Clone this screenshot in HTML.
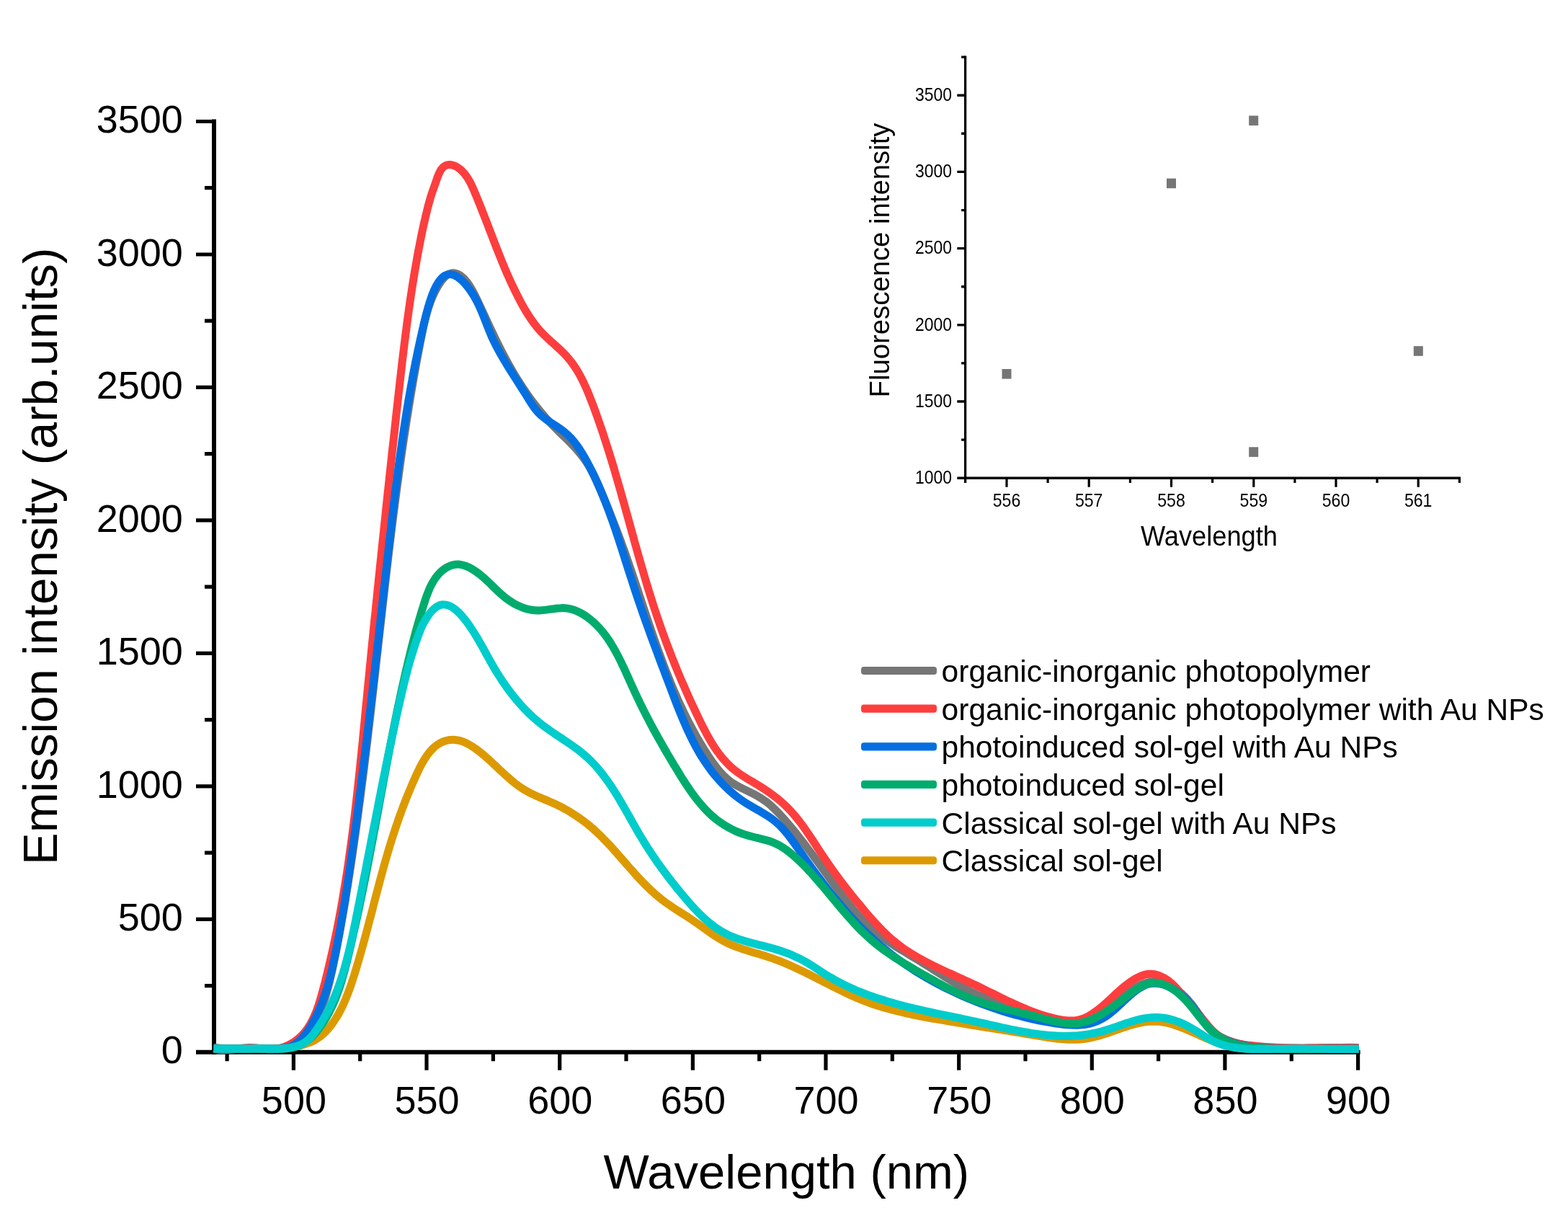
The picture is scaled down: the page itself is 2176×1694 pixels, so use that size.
<!DOCTYPE html>
<html lang="en"><head><meta charset="utf-8"><title>Emission intensity spectra</title>
<style>html,body{margin:0;padding:0;background:#fff}body{width:2176px;height:1694px;overflow:hidden}svg{display:block}text{font-family:"Liberation Sans",Arial,Helvetica,sans-serif;fill:#000}</style></head><body>
<svg xmlns="http://www.w3.org/2000/svg" width="2176" height="1694" viewBox="0 0 2176 1694">
<rect width="2176" height="1694" fill="#fff"/>
<g stroke="#000" stroke-width="6.0" fill="none" stroke-linecap="butt">
<path d="M297.0 165.5V1462.8"/>
<path d="M272.0 1459.8H1887.6"/>
<path stroke-width="5.2" d="M272.0 1275.3H297.0M272.0 1090.9H297.0M272.0 906.4H297.0M272.0 721.9H297.0M272.0 537.4H297.0M272.0 353.0H297.0M272.0 168.5H297.0M284.0 1367.6H297.0M284.0 1183.1H297.0M284.0 998.6H297.0M284.0 814.2H297.0M284.0 629.7H297.0M284.0 445.2H297.0M284.0 260.7H297.0"/>
<path stroke-width="5.2" d="M407.4 1459.8V1484.8M592.0 1459.8V1484.8M776.7 1459.8V1484.8M961.4 1459.8V1484.8M1146.0 1459.8V1484.8M1330.7 1459.8V1484.8M1515.3 1459.8V1484.8M1699.9 1459.8V1484.8M1884.6 1459.8V1484.8M315.1 1459.8V1472.3M499.7 1459.8V1472.3M684.4 1459.8V1472.3M869.0 1459.8V1472.3M1053.7 1459.8V1472.3M1238.3 1459.8V1472.3M1423.0 1459.8V1472.3M1607.6 1459.8V1472.3M1792.3 1459.8V1472.3"/>
</g>
<g fill="none" stroke-linejoin="round" stroke-linecap="butt" stroke-width="11.0">
<path stroke="#DC9A00" d="M296.7 1455.1C299.5 1454.9 302.3 1454.8 305.1 1454.7C307.9 1454.7 310.6 1454.6 313.4 1454.6C316.2 1454.6 319.0 1454.6 321.8 1454.6C324.6 1454.6 327.3 1454.7 330.1 1454.7C332.9 1454.8 335.7 1454.8 338.5 1454.9C341.2 1455.0 344.0 1455.0 346.8 1455.1C349.6 1455.2 352.4 1455.2 355.2 1455.3C357.9 1455.3 360.7 1455.3 363.5 1455.3C366.3 1455.3 369.1 1455.3 371.8 1455.3C374.6 1455.2 377.4 1455.2 380.2 1455.0C383.0 1454.9 385.7 1454.8 388.5 1454.6C391.3 1454.4 394.1 1454.1 396.8 1453.8C399.6 1453.5 402.4 1453.1 405.1 1452.7C407.9 1452.3 410.6 1451.8 413.3 1451.2C416.1 1450.7 418.8 1450.0 421.4 1449.2C424.1 1448.4 426.8 1447.6 429.3 1446.5C431.9 1445.5 434.4 1444.3 436.9 1443.0C439.3 1441.6 441.6 1440.1 443.9 1438.4C446.1 1436.7 448.2 1434.9 450.2 1433.0C452.2 1431.1 454.1 1429.0 455.9 1426.9C457.7 1424.8 459.4 1422.6 461.0 1420.3C462.7 1418.1 464.2 1415.8 465.7 1413.4C467.2 1411.1 468.6 1408.7 470.0 1406.2C471.3 1403.8 472.6 1401.4 473.9 1398.9C475.1 1396.4 476.3 1393.9 477.4 1391.3C478.6 1388.8 479.6 1386.2 480.7 1383.6C481.7 1381.1 482.8 1378.5 483.7 1375.9C484.7 1373.2 485.6 1370.6 486.6 1368.0C487.5 1365.4 488.4 1362.7 489.2 1360.1C490.1 1357.4 490.9 1354.8 491.8 1352.1C492.6 1349.5 493.4 1346.8 494.2 1344.2C495.0 1341.5 495.8 1338.8 496.6 1336.2C497.4 1333.5 498.2 1330.8 498.9 1328.1C499.7 1325.5 500.5 1322.8 501.2 1320.1C502.0 1317.4 502.7 1314.8 503.5 1312.1C504.2 1309.4 505.0 1306.7 505.7 1304.0C506.4 1301.3 507.1 1298.7 507.9 1296.0C508.6 1293.3 509.3 1290.6 510.0 1287.9C510.7 1285.2 511.4 1282.5 512.1 1279.8C512.8 1277.1 513.6 1274.4 514.3 1271.8C515.0 1269.1 515.7 1266.4 516.4 1263.7C517.1 1261.0 517.8 1258.3 518.4 1255.6C519.1 1252.9 519.8 1250.2 520.5 1247.5C521.2 1244.8 521.9 1242.1 522.7 1239.4C523.4 1236.8 524.1 1234.1 524.8 1231.4C525.5 1228.7 526.2 1226.0 526.9 1223.3C527.6 1220.6 528.4 1217.9 529.1 1215.2C529.8 1212.6 530.5 1209.9 531.3 1207.2C532.0 1204.5 532.8 1201.8 533.5 1199.2C534.3 1196.5 535.0 1193.8 535.8 1191.1C536.6 1188.5 537.4 1185.8 538.1 1183.1C538.9 1180.4 539.7 1177.8 540.5 1175.1C541.3 1172.5 542.2 1169.8 543.0 1167.1C543.8 1164.5 544.7 1161.8 545.5 1159.2C546.4 1156.5 547.2 1153.9 548.1 1151.2C549.0 1148.6 549.9 1146.0 550.8 1143.3C551.7 1140.7 552.6 1138.1 553.5 1135.4C554.4 1132.8 555.4 1130.2 556.3 1127.6C557.3 1125.0 558.2 1122.4 559.2 1119.8C560.2 1117.2 561.2 1114.6 562.2 1112.0C563.2 1109.4 564.2 1106.8 565.3 1104.2C566.3 1101.6 567.4 1099.1 568.5 1096.5C569.5 1093.9 570.6 1091.4 571.7 1088.8C572.8 1086.3 573.9 1083.7 575.1 1081.2C576.2 1078.6 577.3 1076.1 578.5 1073.6C579.7 1071.0 580.9 1068.5 582.1 1066.0C583.4 1063.5 584.7 1061.1 586.0 1058.7C587.4 1056.2 588.8 1053.8 590.3 1051.5C591.9 1049.1 593.5 1046.9 595.2 1044.7C596.9 1042.5 598.8 1040.4 600.7 1038.5C602.7 1036.5 604.9 1034.7 607.1 1033.1C609.4 1031.6 611.9 1030.2 614.4 1029.2C617.0 1028.1 619.7 1027.3 622.4 1026.8C625.2 1026.4 628.0 1026.2 630.8 1026.4C633.5 1026.6 636.2 1027.0 639.0 1027.8C641.6 1028.6 644.2 1029.6 646.8 1030.8C649.2 1032.0 651.7 1033.3 654.1 1034.8C656.4 1036.2 658.7 1037.8 661.0 1039.5C663.2 1041.1 665.4 1042.8 667.6 1044.6C669.8 1046.3 671.9 1048.1 674.0 1050.0C676.1 1051.8 678.2 1053.6 680.2 1055.5C682.3 1057.4 684.3 1059.3 686.3 1061.2C688.4 1063.1 690.4 1065.0 692.4 1066.9C694.4 1068.8 696.5 1070.7 698.5 1072.6C700.6 1074.5 702.6 1076.4 704.7 1078.2C706.8 1080.1 708.9 1081.9 711.0 1083.7C713.2 1085.4 715.3 1087.2 717.6 1088.8C719.8 1090.5 722.1 1092.1 724.4 1093.6C726.7 1095.1 729.1 1096.6 731.5 1097.9C734.0 1099.3 736.4 1100.5 739.0 1101.8C741.5 1102.9 744.0 1104.1 746.6 1105.2C749.1 1106.3 751.7 1107.4 754.2 1108.5C756.8 1109.5 759.4 1110.6 761.9 1111.7C764.5 1112.8 767.0 1113.9 769.6 1115.1C772.1 1116.3 774.6 1117.5 777.1 1118.7C779.6 1120.0 782.0 1121.3 784.4 1122.7C786.9 1124.0 789.3 1125.4 791.7 1126.8C794.0 1128.3 796.4 1129.8 798.7 1131.3C801.1 1132.8 803.3 1134.4 805.6 1136.0C807.9 1137.6 810.1 1139.3 812.3 1141.0C814.5 1142.7 816.7 1144.5 818.8 1146.2C820.9 1148.0 823.0 1149.9 825.1 1151.7C827.1 1153.6 829.2 1155.5 831.2 1157.4C833.2 1159.4 835.2 1161.3 837.1 1163.3C839.1 1165.3 841.0 1167.3 842.9 1169.3C844.8 1171.3 846.7 1173.4 848.6 1175.4C850.4 1177.5 852.3 1179.6 854.2 1181.6C856.0 1183.7 857.8 1185.8 859.7 1187.9C861.5 1190.0 863.3 1192.1 865.2 1194.2C867.0 1196.3 868.8 1198.4 870.7 1200.5C872.5 1202.6 874.3 1204.7 876.2 1206.7C878.0 1208.8 879.9 1210.9 881.8 1213.0C883.6 1215.0 885.5 1217.1 887.4 1219.1C889.3 1221.1 891.2 1223.1 893.2 1225.1C895.1 1227.1 897.1 1229.1 899.1 1231.0C901.1 1233.0 903.1 1234.9 905.1 1236.8C907.2 1238.6 909.3 1240.5 911.4 1242.3C913.5 1244.1 915.7 1245.9 917.8 1247.6C920.0 1249.3 922.3 1251.0 924.5 1252.6C926.8 1254.2 929.1 1255.8 931.4 1257.4C933.7 1258.9 936.0 1260.5 938.3 1262.0C940.7 1263.5 943.0 1265.0 945.4 1266.5C947.7 1267.9 950.1 1269.4 952.4 1270.9C954.8 1272.4 957.1 1273.9 959.4 1275.5C961.7 1277.0 964.0 1278.6 966.3 1280.2C968.6 1281.8 970.9 1283.4 973.1 1285.0C975.4 1286.6 977.7 1288.2 979.9 1289.9C982.2 1291.5 984.5 1293.1 986.7 1294.7C989.0 1296.3 991.3 1297.8 993.7 1299.3C996.0 1300.8 998.4 1302.3 1000.8 1303.7C1003.2 1305.1 1005.6 1306.4 1008.1 1307.6C1010.6 1308.9 1013.2 1310.0 1015.7 1311.1C1018.3 1312.2 1020.9 1313.2 1023.5 1314.2C1026.1 1315.2 1028.7 1316.1 1031.4 1317.0C1034.0 1317.8 1036.6 1318.7 1039.3 1319.5C1042.0 1320.3 1044.6 1321.1 1047.3 1321.9C1050.0 1322.7 1052.6 1323.5 1055.3 1324.3C1058.0 1325.1 1060.6 1325.9 1063.3 1326.8C1065.9 1327.6 1068.6 1328.5 1071.2 1329.4C1073.8 1330.3 1076.4 1331.3 1079.0 1332.2C1081.6 1333.2 1084.2 1334.2 1086.8 1335.3C1089.4 1336.4 1091.9 1337.4 1094.5 1338.5C1097.0 1339.7 1099.6 1340.8 1102.1 1342.0C1104.6 1343.1 1107.2 1344.3 1109.7 1345.5C1112.2 1346.7 1114.7 1347.9 1117.2 1349.1C1119.7 1350.4 1122.2 1351.6 1124.7 1352.9C1127.1 1354.1 1129.6 1355.4 1132.1 1356.6C1134.6 1357.9 1137.1 1359.2 1139.5 1360.4C1142.0 1361.7 1144.5 1363.0 1147.0 1364.2C1149.4 1365.5 1151.9 1366.8 1154.4 1368.0C1156.9 1369.3 1159.4 1370.5 1161.9 1371.8C1164.4 1373.0 1166.9 1374.2 1169.4 1375.4C1171.9 1376.6 1174.4 1377.8 1176.9 1379.0C1179.4 1380.2 1182.0 1381.3 1184.5 1382.4C1187.1 1383.6 1189.6 1384.7 1192.2 1385.7C1194.7 1386.8 1197.3 1387.8 1199.9 1388.8C1202.5 1389.8 1205.1 1390.8 1207.7 1391.7C1210.4 1392.7 1213.0 1393.6 1215.6 1394.5C1218.3 1395.3 1220.9 1396.2 1223.6 1397.0C1226.3 1397.8 1228.9 1398.6 1231.6 1399.3C1234.3 1400.1 1237.0 1400.8 1239.7 1401.5C1242.4 1402.2 1245.1 1402.9 1247.8 1403.5C1250.5 1404.2 1253.2 1404.8 1255.9 1405.4C1258.6 1406.1 1261.3 1406.7 1264.0 1407.2C1266.8 1407.8 1269.5 1408.4 1272.2 1408.9C1274.9 1409.5 1277.7 1410.0 1280.4 1410.5C1283.1 1411.0 1285.9 1411.6 1288.6 1412.1C1291.4 1412.6 1294.1 1413.0 1296.8 1413.5C1299.6 1414.0 1302.3 1414.5 1305.1 1414.9C1307.8 1415.4 1310.5 1415.9 1313.3 1416.3C1316.0 1416.8 1318.8 1417.3 1321.5 1417.7C1324.3 1418.2 1327.0 1418.6 1329.8 1419.1C1332.5 1419.5 1335.2 1420.0 1338.0 1420.4C1340.7 1420.9 1343.5 1421.3 1346.2 1421.8C1349.0 1422.2 1351.7 1422.6 1354.5 1423.1C1357.2 1423.5 1360.0 1424.0 1362.7 1424.4C1365.5 1424.9 1368.2 1425.3 1371.0 1425.7C1373.7 1426.2 1376.4 1426.6 1379.2 1427.1C1381.9 1427.5 1384.7 1428.0 1387.4 1428.4C1390.2 1428.8 1392.9 1429.3 1395.7 1429.7C1398.4 1430.2 1401.2 1430.6 1403.9 1431.1C1406.7 1431.5 1409.4 1432.0 1412.2 1432.4C1414.9 1432.9 1417.6 1433.3 1420.4 1433.8C1423.1 1434.2 1425.9 1434.7 1428.6 1435.1C1431.4 1435.6 1434.1 1436.1 1436.9 1436.5C1439.6 1437.0 1442.3 1437.5 1445.1 1437.9C1447.8 1438.4 1450.6 1438.8 1453.3 1439.2C1456.1 1439.6 1458.8 1440.0 1461.6 1440.4C1464.4 1440.7 1467.1 1441.1 1469.9 1441.3C1472.7 1441.6 1475.4 1441.9 1478.2 1442.0C1481.0 1442.2 1483.8 1442.3 1486.5 1442.3C1489.3 1442.4 1492.1 1442.3 1494.9 1442.2C1497.7 1442.1 1500.4 1441.9 1503.2 1441.5C1506.0 1441.2 1508.7 1440.8 1511.5 1440.3C1514.2 1439.8 1516.9 1439.2 1519.6 1438.5C1522.3 1437.8 1525.0 1437.1 1527.7 1436.3C1530.3 1435.5 1533.0 1434.6 1535.6 1433.8C1538.2 1432.9 1540.9 1432.0 1543.5 1431.1C1546.1 1430.1 1548.8 1429.2 1551.4 1428.3C1554.0 1427.4 1556.6 1426.4 1559.3 1425.6C1561.9 1424.7 1564.6 1423.8 1567.2 1423.0C1569.9 1422.2 1572.6 1421.4 1575.2 1420.7C1577.9 1420.0 1580.7 1419.3 1583.4 1418.8C1586.1 1418.2 1588.9 1417.8 1591.6 1417.5C1594.4 1417.2 1597.2 1417.0 1599.9 1416.9C1602.7 1416.9 1605.5 1417.0 1608.3 1417.3C1611.0 1417.6 1613.8 1418.0 1616.5 1418.5C1619.2 1419.1 1621.9 1419.7 1624.6 1420.5C1627.3 1421.2 1629.9 1422.1 1632.6 1423.0C1635.2 1423.9 1637.8 1424.8 1640.4 1425.9C1643.0 1426.9 1645.6 1427.9 1648.1 1429.0C1650.7 1430.1 1653.2 1431.3 1655.8 1432.4C1658.3 1433.5 1660.9 1434.7 1663.4 1435.8C1665.9 1437.0 1668.5 1438.1 1671.0 1439.2C1673.6 1440.3 1676.1 1441.4 1678.7 1442.5C1681.3 1443.6 1683.9 1444.6 1686.5 1445.5C1689.1 1446.5 1691.7 1447.4 1694.4 1448.3C1697.0 1449.1 1699.7 1449.9 1702.4 1450.5C1705.1 1451.2 1707.8 1451.9 1710.5 1452.4C1713.3 1452.9 1716.0 1453.4 1718.8 1453.8C1721.5 1454.2 1724.3 1454.5 1727.1 1454.7C1729.8 1455.0 1732.6 1455.1 1735.4 1455.3C1738.1 1455.4 1740.9 1455.5 1743.7 1455.5C1746.5 1455.5 1749.3 1455.5 1752.1 1455.5C1754.8 1455.5 1757.6 1455.4 1760.4 1455.3C1763.2 1455.2 1766.0 1455.2 1768.8 1455.1C1771.5 1455.0 1774.3 1454.9 1777.1 1454.8C1779.9 1454.7 1782.7 1454.7 1785.4 1454.6C1788.2 1454.5 1791.0 1454.5 1793.8 1454.5C1796.6 1454.4 1799.4 1454.4 1802.1 1454.4C1804.9 1454.4 1807.7 1454.4 1810.5 1454.4C1813.3 1454.4 1816.1 1454.4 1818.8 1454.4C1821.6 1454.4 1824.4 1454.4 1827.2 1454.4C1830.0 1454.4 1832.7 1454.4 1835.5 1454.5C1838.3 1454.5 1841.1 1454.5 1843.9 1454.5C1846.7 1454.5 1849.4 1454.6 1852.2 1454.6C1855.0 1454.6 1857.8 1454.6 1860.6 1454.6C1863.3 1454.6 1866.1 1454.6 1868.9 1454.6C1871.7 1454.6 1874.5 1454.5 1877.3 1454.5C1880.0 1454.5 1882.8 1454.4 1885.6 1454.4"/>
<path stroke="#767676" d="M296.7 1453.6C301.0 1454.0 305.3 1454.4 309.5 1454.6C313.8 1454.8 318.1 1454.9 322.3 1454.9C326.6 1455.0 330.9 1454.9 335.2 1454.9C339.5 1454.8 343.7 1454.8 348.0 1454.8C352.3 1454.7 356.6 1454.7 360.9 1454.8C365.1 1454.9 369.4 1455.1 373.7 1455.2C378.0 1455.4 382.4 1455.4 386.5 1455.1C390.9 1454.7 395.1 1453.9 399.1 1452.5C403.1 1451.1 406.9 1449.0 410.5 1446.6C414.0 1444.3 417.3 1441.5 420.4 1438.5C423.5 1435.5 426.3 1432.3 429.0 1428.9C431.6 1425.6 434.0 1422.0 436.2 1418.4C438.4 1414.7 440.5 1410.9 442.3 1407.1C444.1 1403.2 445.8 1399.3 447.4 1395.2C448.9 1391.3 450.3 1387.2 451.6 1383.1C452.8 1379.0 454.0 1374.9 455.1 1370.8C456.2 1366.6 457.3 1362.5 458.2 1358.3C459.2 1354.1 460.1 1350.0 461.1 1345.8C462.0 1341.6 462.9 1337.4 463.7 1333.2C464.6 1329.0 465.4 1324.8 466.3 1320.6C467.1 1316.4 467.9 1312.2 468.7 1308.0C469.5 1303.8 470.3 1299.6 471.1 1295.4C471.9 1291.2 472.6 1287.0 473.4 1282.8C474.1 1278.5 474.9 1274.3 475.6 1270.1C476.3 1265.9 477.0 1261.7 477.8 1257.4C478.5 1253.2 479.2 1249.0 479.9 1244.8C480.5 1240.5 481.2 1236.3 481.9 1232.1C482.6 1227.9 483.3 1223.6 483.9 1219.4C484.6 1215.2 485.2 1210.9 485.9 1206.7C486.5 1202.5 487.2 1198.2 487.8 1194.0C488.4 1189.8 489.1 1185.5 489.7 1181.3C490.3 1177.1 490.9 1172.8 491.5 1168.6C492.1 1164.4 492.7 1160.1 493.3 1155.9C493.9 1151.6 494.5 1147.4 495.1 1143.2C495.7 1138.9 496.3 1134.7 496.8 1130.4C497.4 1126.2 498.0 1121.9 498.5 1117.7C499.1 1113.5 499.7 1109.2 500.2 1105.0C500.8 1100.7 501.3 1096.5 501.8 1092.2C502.4 1088.0 502.9 1083.7 503.5 1079.5C504.0 1075.2 504.5 1071.0 505.1 1066.7C505.6 1062.5 506.1 1058.2 506.6 1054.0C507.1 1049.7 507.7 1045.5 508.2 1041.2C508.7 1037.0 509.2 1032.7 509.7 1028.5C510.2 1024.2 510.7 1020.0 511.2 1015.7C511.7 1011.5 512.2 1007.2 512.7 1003.0C513.2 998.7 513.7 994.5 514.2 990.2C514.7 986.0 515.2 981.7 515.6 977.4C516.1 973.2 516.6 968.9 517.1 964.7C517.6 960.4 518.1 956.2 518.5 951.9C519.0 947.7 519.5 943.4 520.0 939.2C520.5 934.9 520.9 930.7 521.4 926.4C521.9 922.1 522.4 917.9 522.8 913.6C523.3 909.4 523.8 905.1 524.3 900.9C524.7 896.6 525.2 892.4 525.7 888.1C526.2 883.8 526.6 879.6 527.1 875.3C527.6 871.1 528.1 866.8 528.6 862.6C529.0 858.3 529.5 854.1 530.0 849.8C530.5 845.6 530.9 841.3 531.4 837.0C531.9 832.8 532.4 828.5 532.9 824.3C533.4 820.0 533.9 815.8 534.3 811.5C534.8 807.3 535.3 803.0 535.8 798.8C536.3 794.5 536.8 790.3 537.3 786.0C537.8 781.8 538.3 777.5 538.8 773.2C539.3 769.0 539.8 764.7 540.3 760.5C540.8 756.2 541.3 752.0 541.9 747.7C542.4 743.5 542.9 739.2 543.4 735.0C543.9 730.7 544.5 726.5 545.0 722.2C545.5 718.0 546.1 713.8 546.6 709.5C547.2 705.3 547.7 701.0 548.3 696.8C548.8 692.5 549.4 688.3 549.9 684.0C550.5 679.8 551.0 675.5 551.6 671.3C552.2 667.1 552.8 662.8 553.4 658.6C553.9 654.3 554.5 650.1 555.1 645.8C555.7 641.6 556.3 637.4 556.9 633.1C557.5 628.9 558.1 624.7 558.8 620.4C559.4 616.2 560.0 611.9 560.6 607.7C561.3 603.5 561.9 599.2 562.6 595.0C563.2 590.8 563.9 586.5 564.5 582.3C565.2 578.1 565.9 573.9 566.6 569.6C567.2 565.4 567.9 561.2 568.6 557.0C569.3 552.7 570.0 548.5 570.7 544.3C571.4 540.1 572.2 535.8 572.9 531.6C573.6 527.4 574.4 523.2 575.1 519.0C575.9 514.8 576.6 510.5 577.4 506.3C578.2 502.1 579.0 497.9 579.7 493.7C580.5 489.5 581.3 485.3 582.1 481.1C582.9 476.9 583.8 472.7 584.6 468.5C585.4 464.3 586.3 460.1 587.1 455.9C588.0 451.7 588.9 447.5 590.0 443.4C591.0 439.2 592.1 435.1 593.3 431.0C594.5 426.9 595.9 422.8 597.4 418.8C598.9 414.8 600.6 410.9 602.4 407.0C604.3 403.2 606.3 399.4 608.5 395.7C610.8 391.9 613.3 388.3 616.1 385.4C619.4 381.9 623.0 379.5 627.0 378.9C630.8 378.4 635.1 379.8 639.0 382.4C642.4 384.7 645.5 387.9 648.1 391.4C650.8 394.9 653.1 398.6 655.1 402.2C657.3 406.0 659.2 409.8 661.0 413.6C662.9 417.5 664.7 421.3 666.5 425.2C668.3 429.1 670.1 433.0 671.9 436.9C673.7 440.7 675.5 444.6 677.3 448.5C679.1 452.4 680.9 456.3 682.8 460.1C684.6 464.0 686.5 467.9 688.3 471.7C690.2 475.6 692.1 479.4 694.1 483.2C696.0 487.0 698.0 490.8 700.0 494.6C702.0 498.4 704.0 502.2 706.1 505.9C708.2 509.6 710.3 513.4 712.5 517.0C714.7 520.7 716.9 524.4 719.2 528.0C721.5 531.7 723.8 535.2 726.1 538.8C728.5 542.4 730.9 545.9 733.4 549.4C735.9 552.9 738.4 556.3 741.0 559.7C743.6 563.1 746.3 566.5 749.0 569.8C751.7 573.1 754.5 576.4 757.3 579.6C760.2 582.8 763.1 586.0 766.0 589.1C769.0 592.1 772.0 595.2 775.1 598.2C778.1 601.2 781.2 604.2 784.2 607.1C787.3 610.1 790.4 613.2 793.3 616.2C796.3 619.3 799.2 622.4 802.0 625.7C804.9 628.9 807.6 632.2 810.1 635.7C812.6 639.1 815.0 642.7 817.2 646.4C819.3 650.0 821.4 653.8 823.3 657.7C825.2 661.5 827.0 665.4 828.8 669.3C830.5 673.2 832.2 677.1 833.9 681.1C835.5 685.0 837.2 689.0 838.8 692.9C840.4 696.9 842.1 700.9 843.7 704.8C845.3 708.8 846.9 712.8 848.4 716.7C850.0 720.7 851.6 724.7 853.1 728.7C854.7 732.7 856.2 736.7 857.7 740.7C859.2 744.7 860.7 748.7 862.2 752.7C863.6 756.8 865.1 760.8 866.6 764.8C868.0 768.8 869.4 772.9 870.8 776.9C872.2 781.0 873.6 785.0 875.0 789.1C876.4 793.1 877.8 797.2 879.2 801.2C880.5 805.3 881.9 809.3 883.2 813.4C884.6 817.5 886.0 821.5 887.3 825.6C888.7 829.7 890.0 833.7 891.3 837.8C892.7 841.8 894.0 845.9 895.4 850.0C896.8 854.0 898.1 858.1 899.5 862.2C900.9 866.2 902.2 870.3 903.6 874.3C905.0 878.4 906.4 882.4 907.8 886.5C909.2 890.5 910.7 894.5 912.1 898.6C913.5 902.6 915.0 906.6 916.5 910.6C918.0 914.7 919.5 918.7 921.0 922.7C922.5 926.7 924.0 930.7 925.6 934.6C927.2 938.6 928.8 942.6 930.4 946.6C932.0 950.5 933.7 954.5 935.4 958.4C937.1 962.3 938.8 966.3 940.5 970.2C942.3 974.1 944.1 978.0 945.9 981.8C947.7 985.7 949.6 989.6 951.5 993.4C953.4 997.3 955.3 1001.1 957.3 1004.9C959.3 1008.7 961.3 1012.4 963.4 1016.2C965.4 1019.9 967.5 1023.7 969.7 1027.4C971.8 1031.1 974.1 1034.7 976.3 1038.4C978.6 1042.0 980.9 1045.6 983.2 1049.2C985.6 1052.8 988.0 1056.3 990.5 1059.8C993.0 1063.3 995.7 1066.6 998.4 1069.9C1001.2 1073.1 1004.2 1076.2 1007.4 1079.1C1010.5 1081.9 1013.9 1084.6 1017.5 1086.9C1021.1 1089.2 1024.9 1091.3 1028.7 1093.2C1032.5 1095.1 1036.4 1097.0 1040.3 1098.8C1044.2 1100.7 1048.0 1102.6 1051.7 1104.7C1055.5 1106.8 1059.0 1109.2 1062.5 1111.7C1065.9 1114.3 1069.2 1117.0 1072.3 1119.9C1075.5 1122.8 1078.5 1125.8 1081.4 1129.0C1084.4 1132.1 1087.2 1135.3 1090.0 1138.5C1092.8 1141.8 1095.6 1145.0 1098.3 1148.3C1101.0 1151.6 1103.7 1155.0 1106.4 1158.3C1109.0 1161.7 1111.7 1165.0 1114.3 1168.4C1116.9 1171.8 1119.5 1175.2 1122.1 1178.7C1124.7 1182.1 1127.2 1185.5 1129.8 1189.0C1132.3 1192.4 1134.8 1195.8 1137.4 1199.3C1139.9 1202.8 1142.4 1206.2 1144.9 1209.7C1147.4 1213.2 1149.9 1216.6 1152.5 1220.1C1155.0 1223.5 1157.5 1227.0 1160.0 1230.5C1162.5 1233.9 1165.1 1237.4 1167.7 1240.8C1170.2 1244.2 1172.8 1247.6 1175.5 1251.0C1178.1 1254.4 1180.8 1257.7 1183.5 1261.0C1186.3 1264.3 1189.1 1267.5 1192.0 1270.7C1194.8 1273.9 1197.8 1277.0 1200.8 1280.0C1203.8 1283.0 1206.9 1286.0 1210.1 1288.8C1213.3 1291.7 1216.6 1294.4 1220.0 1297.0C1223.4 1299.6 1226.9 1302.2 1230.4 1304.6C1233.9 1307.1 1237.4 1309.4 1241.0 1311.8C1244.6 1314.1 1248.3 1316.3 1251.9 1318.6C1255.6 1320.8 1259.2 1323.0 1262.9 1325.2C1266.6 1327.5 1270.3 1329.7 1273.9 1331.9C1277.6 1334.1 1281.2 1336.4 1284.8 1338.6C1288.5 1340.9 1292.1 1343.2 1295.7 1345.5C1299.3 1347.7 1303.0 1350.0 1306.6 1352.3C1310.2 1354.6 1313.9 1356.8 1317.5 1359.0C1321.2 1361.3 1324.9 1363.5 1328.6 1365.6C1332.3 1367.7 1336.0 1369.8 1339.8 1371.8C1343.6 1373.8 1347.4 1375.8 1351.3 1377.6C1355.1 1379.5 1359.0 1381.2 1363.0 1382.9C1366.9 1384.6 1370.9 1386.2 1374.9 1387.7C1378.8 1389.3 1382.9 1390.8 1386.9 1392.2C1390.9 1393.7 1394.9 1395.2 1399.0 1396.6C1403.0 1398.1 1407.0 1399.5 1411.0 1401.0C1415.1 1402.4 1419.1 1403.8 1423.2 1405.2C1427.3 1406.6 1431.3 1407.9 1435.4 1409.1C1439.5 1410.3 1443.7 1411.5 1447.8 1412.5C1452.0 1413.6 1456.2 1414.5 1460.3 1415.3C1464.6 1416.1 1468.8 1416.7 1473.0 1417.1C1477.4 1417.5 1481.6 1417.8 1485.9 1417.7C1490.2 1417.7 1494.5 1417.4 1498.7 1416.8C1502.9 1416.2 1507.1 1415.3 1511.2 1414.1C1515.3 1412.9 1519.2 1411.3 1523.2 1409.4C1526.9 1407.6 1530.6 1405.4 1534.2 1402.9C1537.7 1400.5 1541.1 1397.9 1544.5 1395.2C1547.8 1392.5 1551.0 1389.7 1554.3 1386.9C1557.6 1384.1 1560.9 1381.3 1564.2 1378.7C1567.6 1375.9 1571.0 1373.4 1574.5 1371.1C1578.2 1368.6 1582.0 1366.6 1585.8 1365.0C1589.8 1363.3 1594.0 1362.2 1598.2 1361.9C1602.4 1361.5 1606.7 1361.9 1611.0 1363.0C1615.0 1363.9 1619.0 1365.4 1623.0 1367.4C1626.8 1369.2 1630.5 1371.4 1634.0 1374.0C1637.5 1376.5 1640.8 1379.3 1643.8 1382.2C1646.9 1385.2 1649.8 1388.4 1652.4 1391.8C1655.1 1395.1 1657.6 1398.6 1660.1 1402.0C1662.6 1405.6 1665.0 1409.1 1667.5 1412.5C1670.0 1416.1 1672.6 1419.5 1675.3 1422.7C1678.1 1426.0 1681.1 1429.1 1684.3 1431.9C1687.5 1434.6 1691.1 1437.0 1694.9 1439.1C1698.6 1441.1 1702.6 1442.8 1706.7 1444.2C1710.7 1445.7 1714.9 1446.8 1719.0 1447.8C1723.2 1448.8 1727.4 1449.5 1731.6 1450.2C1735.9 1450.8 1740.1 1451.2 1744.4 1451.6C1748.6 1452.0 1752.9 1452.3 1757.2 1452.6C1761.5 1452.9 1765.7 1453.1 1770.0 1453.3C1774.3 1453.4 1778.6 1453.6 1782.9 1453.7C1787.1 1453.8 1791.4 1453.8 1795.7 1453.8C1800.0 1453.9 1804.3 1453.9 1808.5 1453.9C1812.8 1453.9 1817.1 1453.8 1821.4 1453.8C1825.7 1453.8 1829.9 1453.7 1834.2 1453.6C1838.5 1453.6 1842.8 1453.5 1847.1 1453.5C1851.4 1453.4 1855.6 1453.4 1859.9 1453.4C1864.2 1453.3 1868.5 1453.3 1872.8 1453.3C1877.0 1453.3 1881.3 1453.4 1885.6 1453.4"/>
<path stroke="#FD3E3E" d="M296.7 1455.0C301.3 1456.3 306.0 1456.8 310.6 1456.8C315.2 1456.8 319.9 1456.3 324.5 1455.7C329.2 1455.1 333.8 1454.4 338.5 1453.9C343.1 1453.5 347.8 1453.4 352.5 1453.8C357.1 1454.1 361.8 1454.8 366.4 1455.3C371.1 1455.8 375.8 1456.0 380.4 1455.6C385.1 1455.2 389.7 1454.2 394.1 1452.6C398.5 1451.0 402.8 1448.9 406.7 1446.5C410.7 1443.9 414.4 1441.0 417.7 1437.8C421.1 1434.5 424.0 1431.0 426.7 1427.1C429.4 1423.3 431.7 1419.3 433.8 1415.0C435.9 1410.9 437.7 1406.6 439.4 1402.2C441.0 1397.8 442.5 1393.4 443.9 1388.9C445.2 1384.4 446.5 1379.9 447.7 1375.4C448.9 1370.9 450.1 1366.3 451.3 1361.8C452.4 1357.3 453.6 1352.7 454.7 1348.2C455.8 1343.6 456.9 1339.1 457.9 1334.5C459.0 1330.0 460.0 1325.4 461.0 1320.9C462.1 1316.3 463.0 1311.7 464.0 1307.2C465.0 1302.6 465.9 1298.0 466.9 1293.4C467.8 1288.8 468.7 1284.2 469.6 1279.7C470.5 1275.1 471.3 1270.5 472.2 1265.9C473.0 1261.3 473.9 1256.7 474.7 1252.1C475.5 1247.5 476.3 1242.8 477.0 1238.2C477.8 1233.6 478.6 1229.0 479.3 1224.4C480.1 1219.8 480.8 1215.2 481.5 1210.5C482.2 1205.9 482.9 1201.3 483.6 1196.7C484.2 1192.0 484.9 1187.4 485.5 1182.8C486.2 1178.1 486.8 1173.5 487.4 1168.9C488.1 1164.2 488.7 1159.6 489.3 1155.0C489.9 1150.3 490.4 1145.7 491.0 1141.0C491.6 1136.4 492.2 1131.8 492.7 1127.1C493.3 1122.5 493.8 1117.8 494.3 1113.2C494.9 1108.5 495.4 1103.9 495.9 1099.2C496.4 1094.6 496.9 1089.9 497.4 1085.3C497.9 1080.6 498.4 1076.0 498.9 1071.3C499.4 1066.7 499.9 1062.0 500.3 1057.4C500.8 1052.7 501.3 1048.1 501.8 1043.4C502.2 1038.8 502.7 1034.1 503.2 1029.5C503.6 1024.8 504.1 1020.2 504.5 1015.5C505.0 1010.8 505.4 1006.2 505.9 1001.5C506.3 996.9 506.8 992.2 507.2 987.6C507.7 982.9 508.1 978.3 508.6 973.6C509.0 969.0 509.5 964.3 509.9 959.6C510.4 955.0 510.9 950.3 511.3 945.7C511.8 941.0 512.2 936.4 512.7 931.7C513.1 927.1 513.6 922.4 514.1 917.8C514.5 913.1 515.0 908.4 515.4 903.8C515.9 899.1 516.4 894.5 516.8 889.8C517.3 885.2 517.8 880.5 518.2 875.9C518.7 871.2 519.2 866.6 519.6 861.9C520.1 857.3 520.6 852.6 521.1 848.0C521.5 843.3 522.0 838.6 522.5 834.0C523.0 829.3 523.4 824.7 523.9 820.0C524.4 815.4 524.9 810.7 525.3 806.1C525.8 801.4 526.3 796.8 526.8 792.1C527.3 787.5 527.7 782.8 528.2 778.2C528.7 773.5 529.2 768.9 529.7 764.2C530.2 759.6 530.6 754.9 531.1 750.3C531.6 745.6 532.1 741.0 532.6 736.3C533.1 731.7 533.6 727.0 534.1 722.4C534.6 717.7 535.1 713.1 535.5 708.4C536.0 703.8 536.5 699.1 537.0 694.5C537.5 689.8 538.0 685.2 538.5 680.5C539.0 675.9 539.5 671.2 540.0 666.6C540.5 661.9 541.0 657.3 541.5 652.6C542.0 648.0 542.5 643.3 543.0 638.7C543.5 634.0 544.0 629.4 544.5 624.7C545.0 620.1 545.6 615.4 546.1 610.8C546.6 606.1 547.1 601.5 547.6 596.8C548.1 592.2 548.6 587.5 549.1 582.9C549.6 578.2 550.1 573.6 550.6 568.9C551.2 564.3 551.7 559.6 552.2 555.0C552.7 550.3 553.2 545.7 553.7 541.0C554.3 536.4 554.8 531.7 555.3 527.1C555.8 522.5 556.4 517.8 556.9 513.2C557.4 508.5 558.0 503.9 558.5 499.2C559.1 494.6 559.6 489.9 560.2 485.3C560.8 480.7 561.3 476.0 561.9 471.4C562.5 466.7 563.1 462.1 563.7 457.5C564.3 452.8 564.9 448.2 565.5 443.5C566.2 438.9 566.8 434.3 567.4 429.6C568.1 425.0 568.8 420.4 569.4 415.8C570.1 411.1 570.8 406.5 571.5 401.9C572.2 397.3 573.0 392.6 573.7 388.0C574.4 383.4 575.2 378.8 576.0 374.2C576.8 369.6 577.6 365.0 578.4 360.4C579.2 355.8 580.0 351.2 580.9 346.6C581.8 342.0 582.7 337.4 583.6 332.8C584.5 328.2 585.4 323.6 586.4 319.0C587.4 314.5 588.4 309.9 589.5 305.4C590.5 300.8 591.6 296.2 592.7 291.7C593.9 287.1 595.0 282.6 596.3 278.1C597.6 273.5 599.0 269.1 600.5 264.8C601.9 260.8 603.4 256.8 605.2 251.5C606.6 247.3 608.3 242.5 610.3 238.5C612.9 233.3 616.3 230.1 620.0 229.0C624.3 227.7 629.0 228.8 633.5 231.3C637.4 233.5 641.1 236.7 644.2 240.3C647.2 243.8 649.7 247.8 651.9 251.9C654.1 256.0 656.0 260.3 657.9 264.6C659.7 269.0 661.5 273.3 663.3 277.6C665.0 281.9 666.8 286.3 668.5 290.6C670.2 295.0 671.9 299.3 673.6 303.7C675.3 308.1 677.0 312.4 678.6 316.8C680.3 321.2 682.0 325.5 683.7 329.9C685.3 334.2 687.0 338.6 688.7 343.0C690.4 347.3 692.1 351.7 693.9 356.0C695.6 360.3 697.4 364.7 699.2 369.0C701.0 373.3 702.8 377.6 704.7 381.9C706.6 386.2 708.5 390.4 710.5 394.7C712.5 398.9 714.5 403.1 716.6 407.3C718.7 411.5 720.8 415.6 723.0 419.8C725.2 423.9 727.5 428.0 730.0 432.0C732.4 436.0 734.9 439.9 737.6 443.7C740.3 447.6 743.1 451.3 746.1 454.9C749.1 458.5 752.3 461.9 755.6 465.2C758.9 468.5 762.4 471.6 765.9 474.8C769.3 477.9 772.8 481.0 776.3 484.2C779.7 487.4 783.0 490.7 786.2 494.1C789.3 497.6 792.3 501.2 795.0 505.0C797.7 508.8 800.2 512.7 802.6 516.8C804.9 520.8 807.1 525.0 809.2 529.2C811.2 533.4 813.1 537.6 815.0 542.0C816.8 546.2 818.5 550.6 820.2 555.0C821.9 559.3 823.6 563.7 825.2 568.1C826.8 572.5 828.4 576.9 829.9 581.3C831.5 585.7 833.0 590.1 834.5 594.6C836.0 599.0 837.5 603.4 838.9 607.9C840.4 612.3 841.8 616.8 843.2 621.2C844.6 625.7 846.0 630.1 847.4 634.6C848.8 639.1 850.1 643.6 851.5 648.0C852.8 652.5 854.1 657.0 855.4 661.5C856.7 666.0 858.0 670.5 859.3 675.0C860.6 679.5 861.9 684.0 863.1 688.5C864.4 693.0 865.7 697.5 866.9 702.0C868.2 706.5 869.4 711.0 870.7 715.5C871.9 720.0 873.2 724.5 874.4 729.0C875.7 733.5 876.9 738.0 878.2 742.5C879.4 747.1 880.7 751.6 881.9 756.1C883.2 760.6 884.5 765.1 885.7 769.6C887.0 774.1 888.3 778.6 889.6 783.1C890.9 787.6 892.2 792.0 893.5 796.5C894.8 801.0 896.1 805.5 897.5 810.0C898.8 814.5 900.2 818.9 901.6 823.4C903.0 827.9 904.4 832.3 905.8 836.8C907.2 841.2 908.7 845.7 910.2 850.1C911.6 854.6 913.1 859.0 914.7 863.4C916.2 867.8 917.7 872.2 919.3 876.6C920.9 881.0 922.5 885.4 924.1 889.8C925.7 894.2 927.4 898.6 929.1 903.0C930.7 907.3 932.4 911.7 934.2 916.0C935.9 920.4 937.6 924.7 939.4 929.0C941.2 933.3 943.0 937.7 944.8 942.0C946.7 946.3 948.5 950.6 950.4 954.8C952.3 959.1 954.2 963.4 956.1 967.7C958.0 971.9 960.0 976.2 962.0 980.4C963.9 984.6 965.9 988.9 968.0 993.1C970.0 997.3 972.0 1001.5 974.1 1005.7C976.2 1009.9 978.4 1014.0 980.6 1018.2C982.8 1022.3 985.1 1026.4 987.5 1030.3C990.0 1034.4 992.5 1038.3 995.2 1042.1C997.9 1045.9 1000.8 1049.6 1003.8 1053.2C1006.9 1056.7 1010.1 1060.1 1013.5 1063.3C1017.0 1066.4 1020.6 1069.3 1024.4 1072.1C1028.2 1074.8 1032.2 1077.3 1036.2 1079.8C1040.1 1082.2 1044.2 1084.6 1048.2 1087.0C1052.2 1089.4 1056.2 1091.9 1060.1 1094.4C1064.0 1097.0 1067.9 1099.6 1071.6 1102.4C1075.4 1105.2 1079.1 1108.0 1082.7 1111.1C1086.2 1114.1 1089.7 1117.3 1093.0 1120.6C1096.3 1123.9 1099.4 1127.4 1102.4 1130.9C1105.4 1134.5 1108.3 1138.2 1111.2 1141.9C1114.0 1145.6 1116.7 1149.4 1119.4 1153.3C1122.0 1157.1 1124.6 1161.0 1127.2 1164.9C1129.8 1168.8 1132.3 1172.8 1134.9 1176.7C1137.4 1180.6 1140.0 1184.5 1142.6 1188.4C1145.2 1192.3 1147.8 1196.2 1150.5 1200.0C1153.2 1203.8 1155.9 1207.6 1158.6 1211.4C1161.4 1215.2 1164.2 1218.9 1167.0 1222.7C1169.8 1226.4 1172.7 1230.1 1175.6 1233.8C1178.5 1237.5 1181.4 1241.1 1184.3 1244.8C1187.2 1248.4 1190.2 1252.0 1193.2 1255.6C1196.2 1259.2 1199.2 1262.8 1202.2 1266.4C1205.2 1269.9 1208.3 1273.5 1211.4 1277.0C1214.5 1280.5 1217.7 1283.9 1220.9 1287.3C1224.2 1290.7 1227.5 1294.0 1230.9 1297.1C1234.3 1300.4 1237.8 1303.5 1241.4 1306.4C1245.0 1309.4 1248.7 1312.2 1252.6 1314.9C1256.4 1317.6 1260.3 1320.2 1264.3 1322.7C1268.2 1325.1 1272.2 1327.5 1276.3 1329.8C1280.4 1332.1 1284.5 1334.3 1288.7 1336.4C1292.9 1338.5 1297.1 1340.6 1301.3 1342.6C1305.5 1344.6 1309.7 1346.6 1314.0 1348.6C1318.2 1350.5 1322.5 1352.4 1326.8 1354.4C1331.0 1356.3 1335.3 1358.2 1339.5 1360.2C1343.8 1362.1 1348.1 1364.1 1352.3 1366.0C1356.5 1368.0 1360.7 1370.1 1364.9 1372.1C1369.1 1374.2 1373.3 1376.3 1377.5 1378.3C1381.7 1380.4 1385.9 1382.5 1390.1 1384.6C1394.3 1386.6 1398.5 1388.7 1402.7 1390.6C1407.0 1392.6 1411.2 1394.6 1415.5 1396.4C1419.8 1398.3 1424.1 1400.1 1428.5 1401.8C1432.8 1403.5 1437.2 1405.1 1441.6 1406.6C1446.0 1408.1 1450.5 1409.5 1455.0 1410.8C1459.5 1412.0 1464.1 1413.2 1468.7 1414.1C1473.3 1415.0 1478.0 1415.7 1482.5 1416.0C1487.3 1416.2 1492.0 1416.0 1496.5 1415.1C1501.1 1414.1 1505.5 1412.4 1509.6 1410.3C1513.8 1408.1 1517.7 1405.5 1521.4 1402.7C1525.2 1399.9 1528.8 1396.9 1532.3 1393.8C1535.8 1390.8 1539.2 1387.6 1542.6 1384.4C1546.0 1381.2 1549.5 1378.0 1553.0 1374.9C1556.4 1371.8 1560.0 1368.8 1563.8 1365.9C1567.4 1363.1 1571.3 1360.4 1575.3 1358.0C1579.5 1355.6 1583.8 1353.6 1588.2 1352.4C1592.7 1351.2 1597.4 1350.9 1602.1 1351.7C1606.6 1352.5 1611.0 1354.2 1615.2 1356.5C1619.3 1358.8 1623.1 1361.6 1626.5 1364.7C1630.0 1367.9 1633.1 1371.4 1636.0 1375.0C1639.0 1378.6 1641.9 1382.3 1644.9 1385.8C1648.0 1389.4 1651.1 1392.9 1654.2 1396.4C1657.3 1399.8 1660.4 1403.3 1663.4 1407.0C1666.3 1410.6 1669.2 1414.3 1672.2 1417.9C1675.1 1421.6 1678.1 1425.2 1681.3 1428.6C1684.6 1432.0 1688.0 1435.2 1691.7 1437.9C1695.5 1440.7 1699.6 1442.9 1704.1 1444.5C1708.4 1446.1 1712.9 1447.2 1717.6 1448.1C1722.2 1449.0 1726.8 1449.6 1731.5 1450.3C1736.1 1450.9 1740.8 1451.4 1745.4 1451.9C1750.1 1452.3 1754.7 1452.7 1759.4 1453.0C1764.1 1453.4 1768.7 1453.6 1773.4 1453.8C1778.1 1454.0 1782.7 1454.1 1787.4 1454.2C1792.1 1454.4 1796.8 1454.4 1801.4 1454.4C1806.1 1454.5 1810.8 1454.5 1815.5 1454.4C1820.1 1454.4 1824.8 1454.4 1829.5 1454.3C1834.2 1454.3 1838.8 1454.2 1843.5 1454.2C1848.2 1454.1 1852.9 1454.1 1857.6 1454.0C1862.2 1454.0 1866.9 1454.0 1871.6 1454.0C1876.3 1454.0 1880.9 1454.1 1885.6 1454.1"/>
<path stroke="#046FE1" d="M296.7 1455.0C300.8 1455.0 305.1 1455.0 309.6 1455.0C313.8 1455.0 318.1 1455.0 322.5 1455.0C326.8 1455.0 331.1 1455.0 335.4 1455.0C339.7 1455.0 344.0 1454.9 348.3 1454.9C352.6 1454.9 356.8 1454.9 361.1 1455.0C365.4 1455.0 369.7 1455.0 374.0 1455.1C378.3 1455.1 382.7 1455.2 386.9 1454.9C391.3 1454.7 395.6 1454.2 399.6 1453.1C403.8 1451.9 407.7 1450.0 411.2 1447.6C414.7 1445.1 417.8 1442.2 420.7 1438.9C423.5 1435.7 426.0 1432.2 428.4 1428.6C430.8 1425.0 432.9 1421.2 434.9 1417.4C437.0 1413.6 438.9 1409.8 440.7 1405.9C442.5 1402.0 444.2 1398.1 445.8 1394.1C447.4 1390.1 448.9 1386.1 450.3 1382.0C451.7 1377.9 453.0 1373.8 454.2 1369.7C455.4 1365.6 456.6 1361.5 457.7 1357.3C458.7 1353.1 459.8 1349.0 460.7 1344.8C461.7 1340.6 462.6 1336.4 463.5 1332.2C464.4 1328.0 465.3 1323.8 466.1 1319.6C466.9 1315.4 467.8 1311.1 468.6 1306.9C469.4 1302.7 470.2 1298.5 470.9 1294.3C471.7 1290.0 472.5 1285.8 473.2 1281.6C474.0 1277.3 474.7 1273.1 475.4 1268.9C476.2 1264.6 476.9 1260.4 477.6 1256.2C478.3 1251.9 478.9 1247.7 479.6 1243.4C480.3 1239.2 480.9 1234.9 481.6 1230.7C482.3 1226.5 482.9 1222.2 483.5 1218.0C484.2 1213.7 484.8 1209.5 485.4 1205.2C486.0 1201.0 486.6 1196.7 487.2 1192.4C487.9 1188.2 488.5 1183.9 489.0 1179.7C489.6 1175.4 490.2 1171.2 490.8 1166.9C491.4 1162.7 492.0 1158.4 492.6 1154.1C493.1 1149.9 493.7 1145.6 494.3 1141.4C494.8 1137.1 495.4 1132.9 496.0 1128.6C496.5 1124.3 497.1 1120.1 497.6 1115.8C498.2 1111.6 498.8 1107.3 499.3 1103.0C499.8 1098.8 500.4 1094.5 500.9 1090.2C501.5 1086.0 502.0 1081.7 502.5 1077.5C503.1 1073.2 503.6 1068.9 504.1 1064.7C504.7 1060.4 505.2 1056.1 505.7 1051.9C506.3 1047.6 506.8 1043.3 507.3 1039.1C507.8 1034.8 508.3 1030.6 508.8 1026.3C509.4 1022.0 509.9 1017.8 510.4 1013.5C510.9 1009.2 511.4 1005.0 511.9 1000.7C512.4 996.4 512.9 992.2 513.4 987.9C513.9 983.6 514.4 979.4 514.9 975.1C515.4 970.8 515.9 966.6 516.4 962.3C516.9 958.0 517.4 953.8 517.9 949.5C518.4 945.2 518.9 940.9 519.4 936.7C519.9 932.4 520.3 928.1 520.8 923.9C521.3 919.6 521.8 915.3 522.3 911.1C522.8 906.8 523.3 902.5 523.7 898.3C524.2 894.0 524.7 889.7 525.2 885.5C525.7 881.2 526.2 876.9 526.6 872.6C527.1 868.4 527.6 864.1 528.1 859.8C528.6 855.6 529.1 851.3 529.5 847.0C530.0 842.8 530.5 838.5 531.0 834.2C531.5 830.0 531.9 825.7 532.4 821.4C532.9 817.1 533.4 812.9 533.9 808.6C534.4 804.3 534.8 800.1 535.3 795.8C535.8 791.5 536.3 787.3 536.8 783.0C537.3 778.7 537.7 774.5 538.2 770.2C538.7 765.9 539.2 761.6 539.7 757.4C540.2 753.1 540.7 748.8 541.2 744.6C541.7 740.3 542.2 736.0 542.7 731.8C543.2 727.5 543.7 723.2 544.2 719.0C544.7 714.7 545.2 710.4 545.7 706.2C546.2 701.9 546.7 697.6 547.2 693.4C547.8 689.1 548.3 684.8 548.8 680.6C549.4 676.3 549.9 672.1 550.5 667.8C551.0 663.5 551.6 659.3 552.1 655.0C552.7 650.8 553.2 646.5 553.8 642.2C554.4 638.0 555.0 633.7 555.6 629.5C556.2 625.2 556.8 621.0 557.4 616.7C558.0 612.5 558.6 608.2 559.2 604.0C559.9 599.7 560.5 595.5 561.2 591.2C561.8 587.0 562.5 582.7 563.2 578.5C563.8 574.2 564.5 570.0 565.2 565.8C565.9 561.5 566.6 557.3 567.3 553.0C568.1 548.8 568.8 544.6 569.6 540.3C570.3 536.1 571.1 531.9 571.9 527.7C572.6 523.4 573.4 519.2 574.2 515.0C575.1 510.8 575.9 506.6 576.7 502.3C577.6 498.1 578.4 493.9 579.3 489.7C580.2 485.5 581.1 481.3 582.0 477.1C582.9 472.9 583.8 468.7 584.8 464.5C585.7 460.3 586.7 456.1 587.7 452.0C588.6 447.8 589.6 443.6 590.7 439.4C591.7 435.3 592.8 431.2 594.0 427.0C595.2 422.9 596.4 418.8 597.8 414.7C599.1 410.7 600.6 406.7 602.4 402.6C604.1 398.8 606.2 394.9 608.6 391.4C611.3 387.4 614.3 384.0 617.5 382.2C621.5 379.9 625.7 380.0 629.9 381.6C633.6 383.0 637.2 385.6 640.6 388.7C643.7 391.5 646.6 394.9 649.3 398.3C652.0 401.7 654.4 405.3 656.6 408.9C658.9 412.6 660.9 416.3 662.8 420.1C664.7 424.0 666.5 427.9 668.2 431.9C669.8 435.8 671.4 439.8 673.0 443.8C674.6 447.8 676.1 451.8 677.7 455.8C679.3 459.8 681.0 463.8 682.7 467.7C684.5 471.6 686.4 475.5 688.3 479.3C690.3 483.1 692.3 486.9 694.4 490.6C696.5 494.4 698.7 498.1 700.9 501.8C703.1 505.5 705.4 509.1 707.7 512.8C709.9 516.4 712.3 520.0 714.6 523.7C716.9 527.3 719.2 530.9 721.5 534.5C723.8 538.1 726.1 541.8 728.4 545.4C730.7 549.0 732.9 552.7 735.2 556.4C737.5 560.0 739.9 563.6 742.4 567.0C745.1 570.4 747.9 573.6 751.1 576.5C754.3 579.3 757.8 581.9 761.4 584.3C764.9 586.7 768.6 589.0 772.2 591.4C775.8 593.8 779.3 596.2 782.7 598.8C786.1 601.5 789.2 604.5 792.1 607.6C795.0 610.7 797.7 614.1 800.3 617.5C802.8 621.0 805.2 624.6 807.4 628.3C809.7 631.9 811.8 635.7 813.9 639.4C815.9 643.2 817.9 647.0 819.8 650.9C821.8 654.7 823.7 658.6 825.5 662.4C827.3 666.3 829.1 670.2 830.8 674.2C832.6 678.1 834.2 682.1 835.9 686.0C837.5 690.0 839.1 694.0 840.7 698.0C842.2 702.0 843.8 706.0 845.3 710.0C846.8 714.1 848.2 718.1 849.7 722.2C851.1 726.2 852.5 730.3 853.9 734.3C855.3 738.4 856.6 742.5 858.0 746.6C859.3 750.6 860.7 754.7 862.0 758.8C863.3 762.9 864.6 767.0 865.9 771.1C867.2 775.2 868.5 779.3 869.8 783.4C871.1 787.5 872.4 791.5 873.7 795.6C875.1 799.7 876.4 803.8 877.7 807.9C879.0 812.0 880.3 816.1 881.7 820.2C883.0 824.2 884.4 828.3 885.8 832.4C887.2 836.5 888.6 840.5 890.0 844.6C891.4 848.6 892.8 852.7 894.2 856.7C895.7 860.8 897.1 864.8 898.6 868.9C900.0 872.9 901.5 877.0 902.9 881.0C904.4 885.0 905.9 889.1 907.4 893.1C908.9 897.1 910.4 901.2 911.9 905.2C913.4 909.2 914.9 913.2 916.4 917.2C917.9 921.3 919.4 925.3 921.0 929.3C922.5 933.3 924.0 937.3 925.5 941.4C927.0 945.4 928.6 949.4 930.1 953.4C931.6 957.4 933.2 961.4 934.7 965.5C936.2 969.5 937.8 973.5 939.3 977.5C940.9 981.5 942.5 985.5 944.1 989.4C945.7 993.4 947.4 997.4 949.1 1001.3C950.8 1005.3 952.5 1009.2 954.3 1013.1C956.1 1017.0 958.0 1020.9 959.9 1024.7C961.8 1028.6 963.8 1032.4 965.8 1036.2C967.9 1040.0 970.0 1043.7 972.2 1047.4C974.5 1051.0 976.8 1054.7 979.2 1058.2C981.6 1061.8 984.1 1065.3 986.6 1068.7C989.2 1072.2 991.9 1075.5 994.7 1078.8C997.5 1082.0 1000.4 1085.2 1003.4 1088.3C1006.4 1091.4 1009.5 1094.3 1012.7 1097.2C1015.9 1100.1 1019.2 1102.8 1022.6 1105.4C1026.0 1108.0 1029.5 1110.5 1033.1 1112.9C1036.7 1115.2 1040.4 1117.4 1044.2 1119.6C1047.9 1121.7 1051.6 1123.8 1055.4 1125.9C1059.1 1128.1 1062.8 1130.3 1066.3 1132.7C1070.0 1135.1 1073.4 1137.6 1076.7 1140.4C1079.9 1143.2 1083.0 1146.2 1085.9 1149.3C1088.8 1152.5 1091.6 1155.8 1094.3 1159.1C1096.9 1162.5 1099.5 1166.0 1102.0 1169.5C1104.5 1172.9 1107.0 1176.5 1109.4 1180.0C1111.9 1183.5 1114.3 1187.1 1116.8 1190.6C1119.3 1194.1 1121.8 1197.6 1124.3 1201.1C1126.8 1204.6 1129.3 1208.0 1131.9 1211.5C1134.4 1215.0 1137.0 1218.4 1139.6 1221.8C1142.2 1225.3 1144.8 1228.7 1147.4 1232.1C1150.0 1235.5 1152.7 1238.8 1155.4 1242.2C1158.1 1245.5 1160.8 1248.9 1163.6 1252.1C1166.3 1255.4 1169.1 1258.7 1171.9 1262.0C1174.7 1265.2 1177.6 1268.4 1180.5 1271.6C1183.4 1274.8 1186.3 1277.9 1189.3 1281.0C1192.3 1284.1 1195.3 1287.2 1198.3 1290.2C1201.4 1293.2 1204.5 1296.2 1207.6 1299.1C1210.8 1302.0 1214.0 1304.9 1217.2 1307.8C1220.4 1310.6 1223.7 1313.4 1227.0 1316.1C1230.3 1318.8 1233.7 1321.5 1237.1 1324.1C1240.5 1326.7 1243.9 1329.3 1247.4 1331.8C1250.9 1334.3 1254.4 1336.8 1258.0 1339.2C1261.6 1341.6 1265.1 1344.0 1268.8 1346.3C1272.4 1348.6 1276.1 1350.8 1279.8 1353.0C1283.4 1355.2 1287.2 1357.4 1290.9 1359.5C1294.7 1361.6 1298.4 1363.6 1302.2 1365.6C1306.0 1367.6 1309.9 1369.6 1313.7 1371.5C1317.6 1373.4 1321.4 1375.3 1325.3 1377.1C1329.2 1378.9 1333.1 1380.7 1337.1 1382.4C1341.0 1384.1 1345.0 1385.8 1349.0 1387.4C1352.9 1389.0 1356.9 1390.6 1360.9 1392.1C1365.0 1393.7 1369.0 1395.1 1373.0 1396.6C1377.1 1398.0 1381.2 1399.4 1385.2 1400.7C1389.3 1402.1 1393.4 1403.4 1397.5 1404.6C1401.6 1405.8 1405.8 1407.0 1409.9 1408.2C1414.1 1409.3 1418.2 1410.4 1422.4 1411.4C1426.6 1412.4 1430.8 1413.4 1435.0 1414.3C1439.1 1415.2 1443.4 1416.1 1447.6 1416.9C1451.8 1417.7 1456.0 1418.4 1460.3 1419.1C1464.5 1419.8 1468.8 1420.5 1473.0 1421.0C1477.3 1421.5 1481.6 1421.9 1485.9 1422.1C1490.2 1422.3 1494.5 1422.3 1498.7 1422.0C1503.1 1421.8 1507.3 1421.2 1511.5 1420.3C1515.7 1419.3 1519.8 1418.1 1523.8 1416.3C1527.6 1414.7 1531.3 1412.5 1535.0 1410.0C1538.4 1407.7 1541.8 1405.0 1545.1 1402.1C1548.4 1399.3 1551.5 1396.4 1554.7 1393.4C1557.8 1390.5 1560.9 1387.5 1564.1 1384.6C1567.3 1381.7 1570.6 1378.8 1573.9 1376.2C1577.4 1373.5 1580.9 1371.0 1584.6 1369.1C1588.5 1367.0 1592.5 1365.4 1596.6 1364.7C1600.7 1363.9 1605.1 1364.0 1609.4 1364.8C1613.5 1365.5 1617.6 1366.9 1621.6 1368.7C1625.5 1370.5 1629.2 1372.7 1632.8 1375.2C1636.3 1377.6 1639.7 1380.3 1642.8 1383.2C1646.0 1386.2 1648.9 1389.4 1651.6 1392.7C1654.4 1396.0 1657.0 1399.4 1659.5 1402.9C1662.0 1406.4 1664.5 1409.9 1667.0 1413.4C1669.5 1416.9 1672.1 1420.3 1674.8 1423.6C1677.6 1426.9 1680.6 1430.0 1683.8 1432.8C1687.0 1435.6 1690.5 1438.0 1694.4 1440.1C1698.1 1442.2 1702.1 1443.9 1706.1 1445.4C1710.2 1446.9 1714.3 1448.1 1718.5 1449.1C1722.7 1450.1 1726.9 1450.9 1731.1 1451.6C1735.4 1452.3 1739.6 1452.8 1743.9 1453.2C1748.2 1453.6 1752.5 1454.0 1756.7 1454.2C1761.0 1454.5 1765.3 1454.8 1769.6 1455.0C1773.9 1455.1 1778.2 1455.3 1782.5 1455.4C1786.8 1455.5 1791.1 1455.6 1795.4 1455.6C1799.7 1455.6 1804.0 1455.7 1808.3 1455.7C1812.6 1455.6 1816.9 1455.6 1821.2 1455.6C1825.5 1455.5 1829.7 1455.5 1834.0 1455.4C1838.3 1455.4 1842.6 1455.3 1846.9 1455.3C1851.2 1455.2 1855.5 1455.2 1859.8 1455.2C1864.1 1455.2 1868.4 1455.2 1872.7 1455.2C1877.0 1455.2 1881.3 1455.2 1885.6 1455.3"/>
<path stroke="#00AC6D" d="M296.7 1455.0C300.1 1455.1 303.4 1455.1 306.7 1455.1C310.1 1455.1 313.5 1455.1 316.8 1455.1C320.2 1455.1 323.5 1455.1 326.8 1455.1C330.2 1455.0 333.5 1455.0 336.9 1455.0C340.2 1454.9 343.6 1454.9 346.9 1454.9C350.3 1454.8 353.6 1454.8 357.0 1454.8C360.3 1454.8 363.7 1454.8 367.1 1454.9C370.4 1454.9 373.7 1455.0 377.1 1455.1C380.5 1455.2 383.8 1455.2 387.2 1455.2C390.5 1455.2 393.9 1455.0 397.2 1454.7C400.6 1454.4 403.9 1454.0 407.1 1453.2C410.4 1452.4 413.6 1451.3 416.6 1449.9C419.6 1448.5 422.5 1446.8 425.2 1444.8C427.9 1442.9 430.5 1440.7 432.9 1438.3C435.3 1436.0 437.5 1433.5 439.7 1430.9C441.8 1428.3 443.8 1425.6 445.7 1422.9C447.6 1420.1 449.5 1417.3 451.2 1414.4C452.9 1411.6 454.6 1408.6 456.2 1405.7C457.7 1402.7 459.2 1399.7 460.6 1396.7C462.1 1393.7 463.4 1390.6 464.7 1387.5C466.0 1384.4 467.2 1381.3 468.3 1378.1C469.5 1375.0 470.6 1371.8 471.7 1368.6C472.7 1365.5 473.7 1362.3 474.7 1359.0C475.6 1355.8 476.6 1352.6 477.4 1349.4C478.3 1346.2 479.2 1342.9 480.0 1339.7C480.9 1336.4 481.7 1333.2 482.5 1329.9C483.2 1326.7 484.0 1323.4 484.8 1320.1C485.6 1316.9 486.3 1313.6 487.1 1310.4C487.8 1307.1 488.6 1303.8 489.3 1300.6C490.1 1297.3 490.8 1294.0 491.5 1290.7C492.3 1287.5 493.0 1284.2 493.7 1280.9C494.4 1277.7 495.2 1274.4 495.9 1271.1C496.6 1267.8 497.3 1264.6 498.0 1261.3C498.7 1258.0 499.4 1254.7 500.0 1251.4C500.7 1248.2 501.4 1244.9 502.1 1241.6C502.8 1238.3 503.4 1235.0 504.1 1231.8C504.8 1228.5 505.4 1225.2 506.1 1221.9C506.8 1218.6 507.4 1215.3 508.1 1212.0C508.7 1208.8 509.4 1205.5 510.0 1202.2C510.7 1198.9 511.3 1195.6 511.9 1192.3C512.6 1189.0 513.2 1185.7 513.8 1182.4C514.5 1179.2 515.1 1175.9 515.7 1172.6C516.3 1169.3 517.0 1166.0 517.6 1162.7C518.2 1159.4 518.8 1156.1 519.4 1152.8C520.1 1149.5 520.7 1146.2 521.3 1142.9C521.9 1139.6 522.5 1136.4 523.1 1133.1C523.7 1129.8 524.4 1126.5 525.0 1123.2C525.6 1119.9 526.2 1116.6 526.8 1113.3C527.4 1110.0 528.0 1106.7 528.6 1103.4C529.2 1100.1 529.8 1096.8 530.5 1093.5C531.1 1090.2 531.7 1086.9 532.3 1083.6C532.9 1080.3 533.5 1077.0 534.1 1073.8C534.8 1070.5 535.4 1067.2 536.0 1063.9C536.6 1060.6 537.2 1057.3 537.9 1054.0C538.5 1050.7 539.1 1047.4 539.7 1044.1C540.4 1040.8 541.0 1037.5 541.6 1034.3C542.3 1031.0 542.9 1027.7 543.6 1024.4C544.2 1021.1 544.9 1017.8 545.5 1014.5C546.2 1011.2 546.8 1008.0 547.5 1004.7C548.1 1001.4 548.8 998.1 549.5 994.8C550.2 991.5 550.8 988.2 551.5 985.0C552.2 981.7 552.9 978.4 553.6 975.1C554.3 971.9 555.0 968.6 555.7 965.3C556.4 962.0 557.1 958.8 557.8 955.5C558.5 952.2 559.3 948.9 560.0 945.7C560.7 942.4 561.5 939.1 562.2 935.9C563.0 932.6 563.7 929.3 564.5 926.1C565.3 922.8 566.0 919.5 566.8 916.3C567.6 913.0 568.4 909.8 569.2 906.5C570.0 903.3 570.8 900.0 571.6 896.8C572.5 893.5 573.3 890.3 574.2 887.0C575.0 883.8 575.9 880.6 576.7 877.3C577.6 874.1 578.5 870.9 579.4 867.6C580.3 864.4 581.3 861.2 582.2 858.0C583.2 854.8 584.1 851.6 585.1 848.4C586.1 845.2 587.1 842.0 588.1 838.8C589.1 835.6 590.2 832.4 591.2 829.2C592.3 826.0 593.5 822.9 594.8 819.8C596.0 816.7 597.4 813.6 599.0 810.7C600.5 807.7 602.3 804.8 604.2 802.1C606.2 799.4 608.3 796.8 610.7 794.4C613.1 792.0 615.8 789.9 618.5 788.1C621.4 786.3 624.5 784.9 627.6 784.0C630.9 783.1 634.2 782.8 637.6 783.1C640.8 783.5 644.1 784.4 647.3 785.7C650.3 786.9 653.3 788.4 656.3 790.2C659.1 791.9 661.9 793.8 664.5 795.9C667.2 797.9 669.8 800.1 672.3 802.3C674.7 804.5 677.2 806.8 679.6 809.2C682.0 811.5 684.4 813.9 686.8 816.2C689.2 818.5 691.6 820.8 694.1 823.1C696.6 825.3 699.1 827.5 701.8 829.6C704.4 831.6 707.2 833.6 710.0 835.3C712.8 837.1 715.8 838.8 718.8 840.2C721.8 841.7 724.9 842.9 728.1 844.0C731.3 845.0 734.6 845.8 737.9 846.3C741.2 846.8 744.5 847.0 747.9 846.9C751.2 846.8 754.5 846.5 757.9 846.1C761.2 845.6 764.5 845.1 767.9 844.7C771.2 844.2 774.6 843.8 777.9 843.7C781.3 843.5 784.6 843.6 787.9 844.1C791.2 844.6 794.4 845.5 797.6 846.7C800.7 847.8 803.8 849.3 806.7 850.9C809.6 852.5 812.5 854.4 815.2 856.3C817.9 858.3 820.5 860.4 823.0 862.6C825.5 864.8 827.9 867.1 830.2 869.6C832.5 872.0 834.7 874.5 836.8 877.2C838.9 879.8 840.9 882.4 842.8 885.2C844.7 887.9 846.6 890.7 848.3 893.6C850.1 896.4 851.8 899.3 853.4 902.3C855.1 905.2 856.6 908.2 858.2 911.1C859.7 914.1 861.2 917.1 862.6 920.1C864.1 923.2 865.5 926.2 866.9 929.2C868.3 932.3 869.7 935.3 871.1 938.4C872.5 941.5 873.8 944.5 875.2 947.6C876.6 950.6 878.0 953.7 879.4 956.7C880.8 959.8 882.2 962.8 883.6 965.8C885.1 968.9 886.5 971.9 888.0 974.9C889.4 977.9 890.9 980.9 892.4 983.9C893.9 986.9 895.4 989.9 897.0 992.9C898.5 995.8 900.1 998.8 901.6 1001.8C903.2 1004.7 904.8 1007.7 906.3 1010.6C907.9 1013.6 909.5 1016.5 911.2 1019.5C912.8 1022.4 914.4 1025.3 916.1 1028.2C917.7 1031.2 919.4 1034.1 921.1 1037.0C922.7 1039.9 924.4 1042.8 926.1 1045.7C927.8 1048.5 929.5 1051.4 931.2 1054.3C932.9 1057.2 934.7 1060.1 936.4 1062.9C938.1 1065.8 939.9 1068.6 941.6 1071.5C943.4 1074.4 945.1 1077.2 946.9 1080.1C948.7 1082.9 950.5 1085.7 952.4 1088.5C954.2 1091.3 956.1 1094.1 958.0 1096.8C959.9 1099.6 961.9 1102.3 963.9 1105.0C965.9 1107.7 968.0 1110.3 970.1 1112.9C972.2 1115.5 974.4 1118.0 976.7 1120.5C978.9 1123.0 981.3 1125.4 983.7 1127.7C986.1 1130.1 988.5 1132.3 991.1 1134.5C993.7 1136.6 996.3 1138.7 999.0 1140.6C1001.8 1142.6 1004.6 1144.4 1007.5 1146.1C1010.3 1147.8 1013.3 1149.4 1016.3 1150.9C1019.3 1152.4 1022.3 1153.8 1025.5 1155.0C1028.6 1156.2 1031.7 1157.4 1034.9 1158.3C1038.1 1159.3 1041.4 1160.2 1044.6 1161.0C1047.9 1161.8 1051.2 1162.6 1054.4 1163.3C1057.7 1164.1 1061.0 1165.0 1064.1 1165.9C1067.4 1166.8 1070.6 1167.9 1073.6 1169.1C1076.8 1170.4 1079.8 1171.9 1082.7 1173.6C1085.6 1175.2 1088.4 1177.1 1091.1 1179.0C1093.8 1181.0 1096.4 1183.1 1099.0 1185.3C1101.5 1187.4 1104.0 1189.6 1106.5 1191.9C1109.0 1194.2 1111.4 1196.5 1113.7 1198.9C1116.1 1201.2 1118.4 1203.6 1120.8 1206.1C1123.1 1208.5 1125.3 1211.0 1127.6 1213.5C1129.8 1216.0 1132.0 1218.5 1134.2 1221.0C1136.4 1223.5 1138.6 1226.1 1140.8 1228.6C1142.9 1231.2 1145.1 1233.8 1147.2 1236.3C1149.4 1238.9 1151.5 1241.5 1153.7 1244.1C1155.8 1246.7 1157.9 1249.2 1160.1 1251.8C1162.2 1254.4 1164.4 1257.0 1166.5 1259.5C1168.7 1262.1 1170.9 1264.6 1173.1 1267.2C1175.3 1269.7 1177.5 1272.2 1179.7 1274.7C1181.9 1277.2 1184.2 1279.7 1186.5 1282.1C1188.8 1284.6 1191.1 1287.0 1193.4 1289.4C1195.8 1291.8 1198.2 1294.1 1200.6 1296.4C1203.0 1298.7 1205.5 1301.0 1208.0 1303.2C1210.5 1305.5 1213.1 1307.6 1215.7 1309.8C1218.3 1311.9 1220.9 1313.9 1223.6 1315.9C1226.3 1317.9 1229.0 1319.9 1231.7 1321.8C1234.5 1323.7 1237.3 1325.6 1240.1 1327.4C1242.9 1329.3 1245.7 1331.0 1248.6 1332.8C1251.4 1334.6 1254.3 1336.3 1257.2 1338.0C1260.0 1339.8 1262.9 1341.5 1265.8 1343.1C1268.7 1344.8 1271.6 1346.5 1274.5 1348.2C1277.4 1349.8 1280.3 1351.5 1283.2 1353.2C1286.2 1354.8 1289.1 1356.5 1292.0 1358.1C1294.9 1359.8 1297.8 1361.4 1300.8 1363.0C1303.7 1364.6 1306.7 1366.2 1309.6 1367.8C1312.6 1369.4 1315.5 1370.9 1318.5 1372.4C1321.5 1373.9 1324.5 1375.4 1327.6 1376.9C1330.6 1378.3 1333.6 1379.7 1336.7 1381.0C1339.8 1382.4 1342.9 1383.7 1346.0 1384.9C1349.1 1386.2 1352.2 1387.4 1355.4 1388.5C1358.5 1389.6 1361.7 1390.6 1364.9 1391.7C1368.1 1392.7 1371.3 1393.6 1374.5 1394.5C1377.8 1395.4 1381.0 1396.3 1384.2 1397.2C1387.5 1398.0 1390.7 1398.8 1394.0 1399.6C1397.2 1400.4 1400.5 1401.2 1403.8 1402.0C1407.0 1402.7 1410.3 1403.5 1413.5 1404.3C1416.8 1405.1 1420.0 1405.9 1423.3 1406.7C1426.6 1407.5 1429.8 1408.3 1433.1 1409.1C1436.3 1410.0 1439.5 1410.8 1442.8 1411.7C1446.0 1412.6 1449.2 1413.5 1452.5 1414.3C1455.7 1415.2 1459.0 1416.0 1462.2 1416.7C1465.5 1417.4 1468.8 1418.1 1472.1 1418.6C1475.5 1419.2 1478.8 1419.6 1482.1 1419.8C1485.5 1420.1 1488.8 1420.1 1492.1 1419.9C1495.5 1419.7 1498.8 1419.3 1502.1 1418.5C1505.3 1417.8 1508.5 1416.8 1511.7 1415.7C1514.8 1414.5 1517.9 1413.1 1520.9 1411.6C1523.8 1410.1 1526.8 1408.5 1529.7 1406.7C1532.5 1405.0 1535.3 1403.1 1538.1 1401.2C1540.8 1399.4 1543.6 1397.4 1546.3 1395.4C1549.0 1393.4 1551.7 1391.4 1554.3 1389.4C1557.0 1387.4 1559.7 1385.3 1562.3 1383.3C1565.0 1381.3 1567.7 1379.2 1570.4 1377.3C1573.1 1375.3 1575.9 1373.3 1578.7 1371.6C1581.6 1369.8 1584.5 1368.1 1587.5 1366.8C1590.6 1365.4 1593.8 1364.4 1597.1 1363.8C1600.3 1363.3 1603.7 1363.3 1607.1 1363.8C1610.3 1364.3 1613.6 1365.2 1616.8 1366.5C1619.8 1367.7 1622.8 1369.2 1625.7 1371.0C1628.5 1372.8 1631.3 1374.7 1633.9 1376.9C1636.5 1379.0 1639.0 1381.2 1641.4 1383.6C1643.8 1386.0 1646.1 1388.4 1648.3 1390.9C1650.5 1393.4 1652.6 1396.0 1654.7 1398.6C1656.8 1401.2 1658.9 1403.9 1660.9 1406.5C1663.0 1409.1 1665.1 1411.8 1667.2 1414.4C1669.3 1417.0 1671.5 1419.6 1673.7 1422.0C1675.9 1424.6 1678.2 1427.0 1680.6 1429.3C1683.1 1431.6 1685.6 1433.9 1688.2 1435.9C1690.9 1437.9 1693.6 1439.8 1696.6 1441.5C1699.4 1443.1 1702.5 1444.5 1705.6 1445.8C1708.7 1447.0 1711.9 1448.0 1715.2 1448.9C1718.4 1449.7 1721.7 1450.5 1725.0 1451.1C1728.3 1451.7 1731.6 1452.2 1734.9 1452.6C1738.3 1453.1 1741.6 1453.4 1744.9 1453.7C1748.3 1454.0 1751.6 1454.2 1754.9 1454.4C1758.3 1454.6 1761.6 1454.7 1765.0 1454.9C1768.3 1455.0 1771.7 1455.1 1775.0 1455.2C1778.4 1455.3 1781.7 1455.4 1785.1 1455.4C1788.4 1455.5 1791.8 1455.5 1795.1 1455.5C1798.5 1455.6 1801.8 1455.6 1805.2 1455.6C1808.5 1455.6 1811.9 1455.6 1815.2 1455.5C1818.6 1455.5 1821.9 1455.5 1825.3 1455.5C1828.6 1455.5 1832.0 1455.4 1835.3 1455.4C1838.7 1455.4 1842.0 1455.3 1845.4 1455.3C1848.7 1455.3 1852.1 1455.3 1855.4 1455.2C1858.8 1455.2 1862.2 1455.2 1865.5 1455.2C1868.9 1455.2 1872.2 1455.2 1875.6 1455.2C1878.9 1455.2 1882.3 1455.3 1885.6 1455.3"/>
<path stroke="#00CCCC" d="M296.7 1455.0C299.9 1455.1 303.1 1455.1 306.3 1455.1C309.5 1455.1 312.7 1455.1 315.9 1455.1C319.1 1455.1 322.3 1455.1 325.5 1455.1C328.7 1455.0 331.9 1455.0 335.1 1455.0C338.3 1454.9 341.5 1454.9 344.7 1454.9C347.9 1454.8 351.1 1454.8 354.3 1454.8C357.5 1454.8 360.7 1454.9 363.9 1454.9C367.1 1455.0 370.3 1455.0 373.5 1455.1C376.7 1455.2 379.9 1455.2 383.1 1455.2C386.3 1455.1 389.5 1455.0 392.7 1454.8C395.9 1454.6 399.1 1454.3 402.3 1453.7C405.5 1453.2 408.6 1452.5 411.6 1451.6C414.7 1450.6 417.7 1449.4 420.5 1447.9C423.3 1446.3 425.9 1444.5 428.2 1442.2C430.5 1440.1 432.6 1437.6 434.6 1435.1C436.6 1432.6 438.4 1429.9 440.2 1427.3C442.1 1424.7 443.8 1422.0 445.5 1419.3C447.2 1416.6 448.9 1413.8 450.4 1411.0C452.0 1408.3 453.6 1405.4 455.0 1402.6C456.5 1399.8 457.9 1396.9 459.3 1394.0C460.7 1391.1 462.0 1388.2 463.3 1385.2C464.5 1382.3 465.7 1379.3 466.9 1376.4C468.1 1373.4 469.2 1370.4 470.3 1367.4C471.4 1364.4 472.4 1361.3 473.4 1358.3C474.4 1355.3 475.4 1352.2 476.3 1349.1C477.3 1346.1 478.2 1343.0 479.0 1339.9C479.9 1336.8 480.7 1333.8 481.5 1330.7C482.3 1327.6 483.1 1324.5 483.9 1321.3C484.7 1318.2 485.4 1315.1 486.1 1312.0C486.8 1308.9 487.5 1305.8 488.2 1302.6C488.9 1299.5 489.6 1296.4 490.2 1293.2C490.9 1290.1 491.5 1287.0 492.2 1283.8C492.8 1280.7 493.5 1277.6 494.1 1274.4C494.7 1271.3 495.3 1268.1 496.0 1265.0C496.6 1261.9 497.2 1258.7 497.8 1255.6C498.5 1252.4 499.1 1249.3 499.7 1246.2C500.3 1243.0 500.9 1239.9 501.6 1236.7C502.2 1233.6 502.8 1230.4 503.4 1227.3C504.0 1224.2 504.6 1221.0 505.2 1217.9C505.9 1214.7 506.5 1211.6 507.1 1208.5C507.7 1205.3 508.3 1202.2 508.9 1199.0C509.5 1195.9 510.1 1192.7 510.7 1189.6C511.3 1186.4 511.9 1183.3 512.6 1180.2C513.2 1177.0 513.8 1173.9 514.4 1170.7C515.0 1167.6 515.6 1164.4 516.2 1161.3C516.8 1158.2 517.4 1155.0 518.0 1151.9C518.6 1148.7 519.3 1145.6 519.9 1142.4C520.5 1139.3 521.1 1136.2 521.7 1133.0C522.3 1129.9 522.9 1126.7 523.6 1123.6C524.2 1120.5 524.8 1117.3 525.4 1114.2C526.0 1111.0 526.6 1107.9 527.3 1104.7C527.9 1101.6 528.5 1098.5 529.1 1095.3C529.8 1092.2 530.4 1089.0 531.0 1085.9C531.6 1082.8 532.3 1079.6 532.9 1076.5C533.5 1073.4 534.2 1070.2 534.8 1067.1C535.4 1063.9 536.1 1060.8 536.7 1057.7C537.4 1054.5 538.0 1051.4 538.7 1048.3C539.3 1045.1 540.0 1042.0 540.6 1038.9C541.3 1035.7 541.9 1032.6 542.6 1029.5C543.3 1026.3 543.9 1023.2 544.6 1020.1C545.3 1016.9 545.9 1013.8 546.6 1010.7C547.3 1007.5 548.0 1004.4 548.7 1001.3C549.3 998.2 550.0 995.0 550.7 991.9C551.4 988.8 552.1 985.7 552.8 982.5C553.5 979.4 554.2 976.3 554.9 973.2C555.6 970.0 556.4 966.9 557.1 963.8C557.8 960.7 558.5 957.6 559.3 954.5C560.0 951.3 560.8 948.2 561.5 945.1C562.3 942.0 563.1 938.9 563.9 935.8C564.7 932.7 565.5 929.6 566.3 926.5C567.2 923.4 568.0 920.4 568.9 917.3C569.8 914.2 570.7 911.1 571.7 908.1C572.6 905.0 573.6 902.0 574.6 898.9C575.5 895.9 576.6 892.8 577.6 889.8C578.7 886.8 579.7 883.8 580.9 880.8C582.0 877.8 583.2 874.8 584.4 871.8C585.7 868.9 587.1 866.0 588.6 863.2C590.1 860.3 591.7 857.6 593.5 855.0C595.3 852.3 597.3 849.8 599.5 847.4C601.8 845.0 604.3 842.8 606.8 841.3C609.8 839.4 612.9 838.6 615.9 838.7C619.0 838.7 622.1 839.6 625.1 841.1C627.8 842.5 630.4 844.3 633.0 846.5C635.3 848.5 637.6 850.8 639.9 853.3C642.0 855.6 644.0 858.1 646.0 860.7C648.0 863.2 649.8 865.8 651.7 868.4C653.5 871.1 655.3 873.7 657.0 876.4C658.7 879.1 660.4 881.9 662.0 884.6C663.7 887.3 665.3 890.1 666.9 892.9C668.5 895.7 670.0 898.5 671.6 901.3C673.1 904.1 674.6 906.9 676.2 909.7C677.7 912.5 679.3 915.3 680.8 918.1C682.4 920.9 684.0 923.6 685.6 926.4C687.2 929.2 688.9 931.9 690.6 934.6C692.3 937.3 694.0 940.0 695.8 942.7C697.5 945.4 699.3 948.0 701.2 950.6C703.0 953.3 704.9 955.9 706.8 958.4C708.7 961.0 710.7 963.5 712.7 966.0C714.7 968.5 716.7 971.0 718.8 973.4C720.9 975.9 723.0 978.2 725.2 980.6C727.4 982.9 729.6 985.3 731.8 987.5C734.1 989.8 736.4 992.0 738.8 994.2C741.1 996.3 743.6 998.4 746.0 1000.5C748.5 1002.5 751.0 1004.5 753.5 1006.5C756.1 1008.4 758.7 1010.3 761.3 1012.1C763.9 1014.0 766.5 1015.8 769.2 1017.6C771.8 1019.4 774.5 1021.2 777.2 1022.9C779.8 1024.7 782.5 1026.5 785.1 1028.3C787.8 1030.1 790.5 1031.9 793.1 1033.7C795.7 1035.5 798.3 1037.4 800.9 1039.3C803.4 1041.2 806.0 1043.2 808.4 1045.2C810.9 1047.3 813.3 1049.4 815.7 1051.5C818.0 1053.7 820.3 1055.9 822.5 1058.3C824.7 1060.6 826.9 1062.9 829.0 1065.3C831.1 1067.8 833.1 1070.2 835.1 1072.7C837.1 1075.2 839.0 1077.8 840.9 1080.4C842.8 1083.0 844.7 1085.6 846.5 1088.3C848.2 1090.9 850.0 1093.6 851.7 1096.3C853.5 1099.0 855.1 1101.7 856.8 1104.4C858.5 1107.2 860.1 1109.9 861.7 1112.7C863.4 1115.4 865.0 1118.2 866.5 1121.0C868.1 1123.8 869.7 1126.6 871.3 1129.3C872.9 1132.1 874.4 1134.9 876.0 1137.7C877.6 1140.5 879.1 1143.3 880.7 1146.1C882.3 1148.9 883.9 1151.6 885.5 1154.4C887.1 1157.2 888.7 1159.9 890.4 1162.7C892.0 1165.4 893.7 1168.2 895.4 1170.9C897.1 1173.6 898.8 1176.3 900.6 1179.0C902.3 1181.6 904.1 1184.3 905.9 1187.0C907.7 1189.6 909.5 1192.3 911.3 1194.9C913.2 1197.5 915.0 1200.1 916.9 1202.7C918.8 1205.3 920.7 1207.9 922.6 1210.4C924.5 1213.0 926.4 1215.6 928.4 1218.1C930.3 1220.6 932.3 1223.1 934.3 1225.7C936.3 1228.2 938.3 1230.7 940.3 1233.2C942.3 1235.6 944.4 1238.1 946.4 1240.6C948.5 1243.0 950.5 1245.5 952.6 1247.9C954.7 1250.3 956.8 1252.8 958.9 1255.2C961.0 1257.5 963.2 1259.9 965.4 1262.2C967.6 1264.6 969.8 1266.9 972.1 1269.1C974.4 1271.4 976.7 1273.6 979.1 1275.7C981.5 1277.8 983.9 1279.9 986.4 1281.9C989.0 1283.9 991.5 1285.8 994.2 1287.6C996.8 1289.4 999.5 1291.2 1002.3 1292.8C1005.0 1294.4 1007.9 1295.8 1010.8 1297.2C1013.7 1298.5 1016.6 1299.8 1019.6 1300.9C1022.6 1302.1 1025.6 1303.1 1028.7 1304.1C1031.7 1305.1 1034.8 1306.0 1037.9 1306.9C1041.0 1307.7 1044.1 1308.6 1047.2 1309.4C1050.3 1310.2 1053.4 1310.9 1056.5 1311.7C1059.6 1312.5 1062.7 1313.3 1065.8 1314.1C1068.9 1314.9 1072.0 1315.8 1075.0 1316.6C1078.1 1317.5 1081.2 1318.5 1084.2 1319.5C1087.3 1320.5 1090.3 1321.6 1093.2 1322.7C1096.2 1323.9 1099.2 1325.1 1102.1 1326.4C1105.0 1327.7 1107.9 1329.1 1110.8 1330.5C1113.6 1332.0 1116.4 1333.5 1119.2 1335.1C1122.0 1336.7 1124.7 1338.4 1127.4 1340.1C1130.1 1341.8 1132.8 1343.6 1135.5 1345.4C1138.1 1347.2 1140.8 1348.9 1143.5 1350.6C1146.2 1352.4 1149.0 1354.0 1151.7 1355.6C1154.5 1357.3 1157.3 1358.8 1160.1 1360.4C1162.9 1361.9 1165.7 1363.4 1168.6 1364.8C1171.4 1366.3 1174.3 1367.7 1177.2 1369.0C1180.1 1370.4 1183.0 1371.7 1186.0 1372.9C1188.9 1374.2 1191.9 1375.4 1194.8 1376.6C1197.8 1377.8 1200.8 1379.0 1203.8 1380.1C1206.8 1381.2 1209.8 1382.3 1212.9 1383.3C1215.9 1384.4 1218.9 1385.4 1222.0 1386.3C1225.0 1387.3 1228.1 1388.3 1231.1 1389.2C1234.2 1390.1 1237.3 1391.0 1240.4 1391.9C1243.4 1392.7 1246.5 1393.6 1249.6 1394.4C1252.7 1395.2 1255.8 1396.0 1258.9 1396.8C1262.0 1397.5 1265.1 1398.3 1268.3 1399.0C1271.4 1399.8 1274.5 1400.5 1277.6 1401.2C1280.7 1401.9 1283.9 1402.6 1287.0 1403.3C1290.1 1404.0 1293.3 1404.7 1296.4 1405.3C1299.5 1406.0 1302.6 1406.7 1305.8 1407.3C1308.9 1408.0 1312.0 1408.6 1315.2 1409.3C1318.3 1409.9 1321.5 1410.6 1324.6 1411.2C1327.7 1411.9 1330.9 1412.5 1334.0 1413.2C1337.1 1413.8 1340.3 1414.5 1343.4 1415.2C1346.5 1415.8 1349.7 1416.5 1352.8 1417.2C1355.9 1417.9 1359.0 1418.5 1362.2 1419.2C1365.3 1419.9 1368.4 1420.6 1371.5 1421.3C1374.7 1422.0 1377.8 1422.7 1380.9 1423.4C1384.0 1424.1 1387.2 1424.8 1390.3 1425.5C1393.4 1426.2 1396.6 1426.9 1399.7 1427.5C1402.8 1428.2 1406.0 1428.8 1409.1 1429.4C1412.2 1430.0 1415.4 1430.6 1418.5 1431.2C1421.7 1431.8 1424.8 1432.3 1428.0 1432.8C1431.2 1433.4 1434.3 1433.8 1437.5 1434.3C1440.7 1434.7 1443.8 1435.1 1447.0 1435.5C1450.2 1435.9 1453.4 1436.2 1456.6 1436.4C1459.8 1436.7 1463.0 1436.9 1466.2 1437.1C1469.4 1437.2 1472.6 1437.3 1475.8 1437.4C1479.0 1437.4 1482.2 1437.4 1485.4 1437.3C1488.6 1437.2 1491.8 1437.0 1495.0 1436.8C1498.1 1436.5 1501.3 1436.2 1504.5 1435.8C1507.7 1435.4 1510.8 1434.9 1514.0 1434.3C1517.1 1433.8 1520.3 1433.1 1523.4 1432.4C1526.5 1431.7 1529.6 1430.8 1532.7 1429.9C1535.7 1429.0 1538.8 1428.0 1541.8 1427.0C1544.9 1426.0 1547.9 1424.9 1550.9 1423.9C1553.9 1422.8 1557.0 1421.7 1560.0 1420.7C1563.0 1419.7 1566.1 1418.6 1569.1 1417.7C1572.2 1416.7 1575.2 1415.8 1578.3 1415.0C1581.4 1414.2 1584.6 1413.5 1587.7 1412.9C1590.9 1412.4 1594.0 1411.9 1597.2 1411.7C1600.4 1411.4 1603.6 1411.4 1606.8 1411.5C1610.0 1411.7 1613.2 1412.0 1616.4 1412.5C1619.5 1413.0 1622.6 1413.7 1625.8 1414.5C1628.8 1415.3 1631.9 1416.3 1634.9 1417.5C1637.9 1418.6 1640.8 1419.9 1643.7 1421.3C1646.6 1422.7 1649.4 1424.2 1652.2 1425.8C1655.0 1427.4 1657.7 1429.0 1660.4 1430.7C1663.1 1432.4 1665.8 1434.1 1668.6 1435.8C1671.3 1437.5 1674.0 1439.2 1676.8 1440.8C1679.6 1442.3 1682.4 1443.8 1685.3 1445.2C1688.2 1446.6 1691.2 1447.8 1694.2 1448.8C1697.2 1449.8 1700.3 1450.7 1703.4 1451.5C1706.5 1452.2 1709.7 1452.8 1712.9 1453.3C1716.0 1453.8 1719.2 1454.2 1722.4 1454.5C1725.6 1454.8 1728.7 1455.1 1732.0 1455.2C1735.1 1455.4 1738.3 1455.5 1741.6 1455.5C1744.7 1455.6 1748.0 1455.6 1751.2 1455.6C1754.4 1455.6 1757.6 1455.5 1760.8 1455.5C1764.0 1455.4 1767.2 1455.3 1770.4 1455.3C1773.6 1455.2 1776.8 1455.2 1780.0 1455.2C1783.2 1455.1 1786.4 1455.1 1789.6 1455.1C1792.8 1455.1 1796.0 1455.1 1799.2 1455.1C1802.4 1455.1 1805.6 1455.1 1808.8 1455.1C1812.0 1455.2 1815.2 1455.2 1818.4 1455.2C1821.6 1455.2 1824.8 1455.2 1828.0 1455.3C1831.2 1455.3 1834.4 1455.3 1837.6 1455.3C1840.8 1455.4 1844.0 1455.4 1847.2 1455.4C1850.4 1455.4 1853.6 1455.4 1856.8 1455.4C1860.0 1455.4 1863.2 1455.4 1866.4 1455.4C1869.6 1455.4 1872.8 1455.4 1876.0 1455.4C1879.2 1455.3 1882.4 1455.3 1885.6 1455.3"/>
</g>
<g font-size="54px" text-anchor="end">
<text x="253.9" y="1475.4">0</text>
<text x="253.9" y="1290.9">500</text>
<text x="253.9" y="1106.5">1000</text>
<text x="253.9" y="922.0">1500</text>
<text x="253.9" y="737.5">2000</text>
<text x="253.9" y="553.0">2500</text>
<text x="253.9" y="368.6">3000</text>
<text x="253.9" y="184.1">3500</text>
</g>
<g font-size="54px" text-anchor="middle">
<text x="407.9" y="1544.6">500</text>
<text x="592.5" y="1544.6">550</text>
<text x="777.2" y="1544.6">600</text>
<text x="961.9" y="1544.6">650</text>
<text x="1146.5" y="1544.6">700</text>
<text x="1331.2" y="1544.6">750</text>
<text x="1515.8" y="1544.6">800</text>
<text x="1700.4" y="1544.6">850</text>
<text x="1885.1" y="1544.6">900</text>
</g>
<text font-size="67px" text-anchor="middle" x="1091.3" y="1648.8">Wavelength (nm)</text>
<text font-size="67px" text-anchor="middle" transform="translate(78.9 771.8) rotate(-90)">Emission intensity (arb.units)</text>
<g font-size="42.5px">
<rect x="1195" y="924.90" width="105" height="11.2" rx="4" ry="4" fill="#767676"/>
<text x="1306.6" y="945.90">organic-inorganic photopolymer</text>
<rect x="1195" y="977.55" width="105" height="11.2" rx="4" ry="4" fill="#FD3E3E"/>
<text x="1306.6" y="998.55">organic-inorganic photopolymer with Au NPs</text>
<rect x="1195" y="1030.20" width="105" height="11.2" rx="4" ry="4" fill="#046FE1"/>
<text x="1306.6" y="1051.20">photoinduced sol-gel with Au NPs</text>
<rect x="1195" y="1082.85" width="105" height="11.2" rx="4" ry="4" fill="#00AC6D"/>
<text x="1306.6" y="1103.85">photoinduced sol-gel</text>
<rect x="1195" y="1135.50" width="105" height="11.2" rx="4" ry="4" fill="#00CCCC"/>
<text x="1306.6" y="1156.50">Classical sol-gel with Au NPs</text>
<rect x="1195" y="1188.15" width="105" height="11.2" rx="4" ry="4" fill="#DC9A00"/>
<text x="1306.6" y="1209.15">Classical sol-gel</text>
</g>
<g stroke="#000" fill="none" stroke-linecap="butt">
<path stroke-width="3.3" d="M1339.6 77.4V670.0"/>
<path stroke-width="3.6" d="M1328.3 663.2H2027.0"/>
<path stroke-width="3.4" d="M1328.3 557.0H1339.6M1328.3 450.9H1339.6M1328.3 344.6H1339.6M1328.3 238.4H1339.6M1328.3 132.2H1339.6M1334.1 610.1H1339.6M1334.1 503.9H1339.6M1334.1 397.8H1339.6M1334.1 291.6H1339.6M1334.1 185.3H1339.6M1334.1 79.1H1339.6"/>
<path stroke-width="3.2" d="M1397.0 663.2V675.8M1511.2 663.2V675.8M1625.5 663.2V675.8M1739.8 663.2V675.8M1854.0 663.2V675.8M1968.2 663.2V675.8M1454.1 663.2V670.0M1568.4 663.2V670.0M1682.6 663.2V670.0M1796.9 663.2V670.0M1911.1 663.2V670.0M2025.4 663.2V670.0"/>
</g>
<g font-size="25px" text-anchor="end">
<text x="1321" y="671.0" textLength="51" lengthAdjust="spacingAndGlyphs">1000</text>
<text x="1321" y="564.8" textLength="51" lengthAdjust="spacingAndGlyphs">1500</text>
<text x="1321" y="458.6" textLength="51" lengthAdjust="spacingAndGlyphs">2000</text>
<text x="1321" y="352.3" textLength="51" lengthAdjust="spacingAndGlyphs">2500</text>
<text x="1321" y="246.1" textLength="51" lengthAdjust="spacingAndGlyphs">3000</text>
<text x="1321" y="139.9" textLength="51" lengthAdjust="spacingAndGlyphs">3500</text>
</g>
<g font-size="25px" text-anchor="middle">
<text x="1397.0" y="703" textLength="38.5" lengthAdjust="spacingAndGlyphs">556</text>
<text x="1511.2" y="703" textLength="38.5" lengthAdjust="spacingAndGlyphs">557</text>
<text x="1625.5" y="703" textLength="38.5" lengthAdjust="spacingAndGlyphs">558</text>
<text x="1739.8" y="703" textLength="38.5" lengthAdjust="spacingAndGlyphs">559</text>
<text x="1854.0" y="703" textLength="38.5" lengthAdjust="spacingAndGlyphs">560</text>
<text x="1968.2" y="703" textLength="38.5" lengthAdjust="spacingAndGlyphs">561</text>
</g>
<text font-size="38px" text-anchor="middle" x="1678" y="757" textLength="190" lengthAdjust="spacingAndGlyphs">Wavelength</text>
<text font-size="39px" text-anchor="middle" transform="translate(1234.4 361) rotate(-90)" textLength="381" lengthAdjust="spacingAndGlyphs">Fluorescence intensity</text>
<g fill="#767676">
<rect x="1390.5" y="512.0" width="13" height="13.6"/>
<rect x="1619.0" y="247.6" width="13" height="13.6"/>
<rect x="1733.2" y="160.5" width="13" height="13.6"/>
<rect x="1733.2" y="620.3" width="13" height="13.6"/>
<rect x="1961.8" y="480.2" width="13" height="13.6"/>
</g>
</svg></body></html>
